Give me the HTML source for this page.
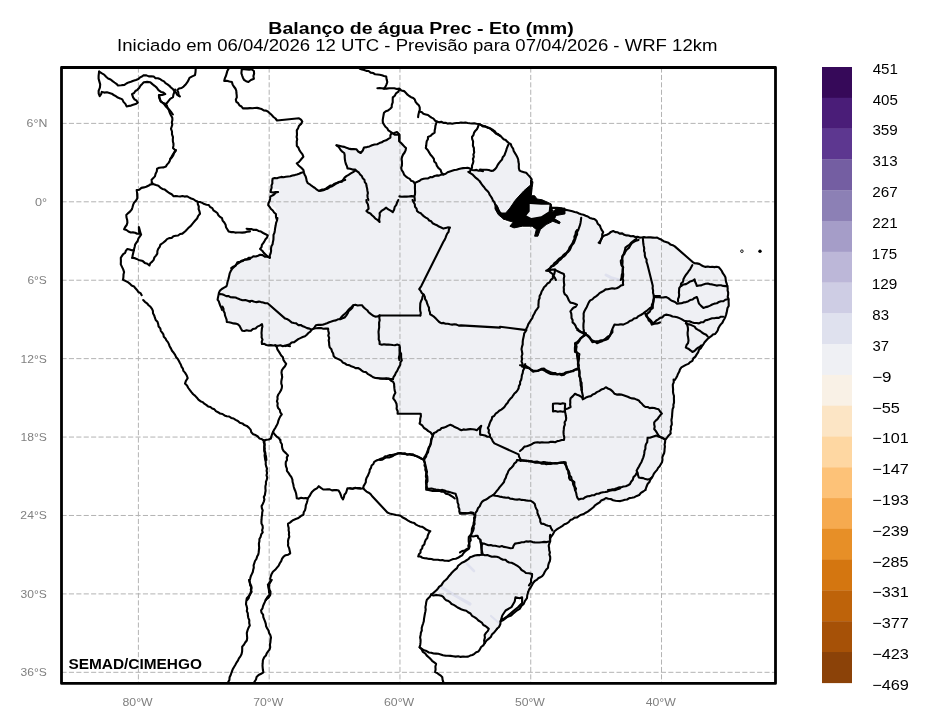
<!DOCTYPE html><html><head><meta charset="utf-8"><style>html,body{margin:0;padding:0;background:#fff;width:929px;height:727px;overflow:hidden}svg{display:block}svg{will-change:transform}text{font-family:"Liberation Sans",sans-serif}</style></head><body><svg width="929" height="727" viewBox="0 0 929 727">
<rect width="929" height="727" fill="#fff"/>
<text x="268.39" y="34.40" font-family="Liberation Sans" font-weight="bold" font-size="17.4" fill="#000" textLength="305.28" lengthAdjust="spacingAndGlyphs">Balanço de água Prec - Eto (mm)</text>
<text x="117.09" y="50.80" font-family="Liberation Sans" font-size="17.4" fill="#000" textLength="600.44" lengthAdjust="spacingAndGlyphs">Iniciado em 06/04/2026 12 UTC - Previsão para 07/04/2026 - WRF 12km</text>
<defs><clipPath id="ax"><rect x="61.5" y="67.5" width="714.0" height="615.9"/></clipPath></defs>
<g clip-path="url(#ax)">
<path d="M336.5,145.3 L342.0,146.4 L348.6,148.6 L356.3,149.2 L360.7,153.0 L364.0,147.5 L369.5,146.4 L377.2,144.2 L383.8,140.9 L390.4,137.6 L391.5,133.2 L397.0,132.1 L399.2,134.3 L399.2,140.9 L403.6,143.1 L405.8,149.7 L402.5,155.2 L400.3,164.0 L401.4,170.6 L404.7,178.3 L411.3,183.8 L419.0,182.7 L423.6,178.8 L443.4,174.4 L454.4,170.0 L467.6,167.8 L472.0,170.0 L480.0,169.5 L493.2,170.6 L502.0,159.6 L508.6,144.2 L510.8,144.2 L517.4,157.4 L519.6,170.6 L526.2,172.8 L531.7,179.4 L530.6,192.6 L529.5,197.0 L525.0,205.0 L510.0,213.0 L500.0,212.0 L498.0,205.0 L496.0,210.0 L504.0,221.0 L520.0,228.0 L535.0,228.0 L550.0,208.0 L559.2,208.0 L572.4,211.3 L585.6,215.7 L594.4,219.0 L600.0,225.6 L603.2,232.2 L600.0,243.2 L612.0,230.0 L625.2,232.2 L634.0,235.5 L640.0,238.8 L657.2,237.6 L674.8,246.4 L692.4,261.8 L703.4,266.2 L718.8,267.3 L725.4,277.2 L727.6,290.4 L728.7,303.6 L725.4,316.8 L716.6,332.2 L707.8,338.8 L699.0,349.8 L692.4,360.8 L681.4,367.4 L676.0,376.2 L673.0,387.2 L674.0,402.6 L671.8,418.0 L670.7,433.4 L665.2,440.0 L664.1,453.2 L660.8,464.2 L652.0,477.4 L647.6,484.0 L645.4,490.0 L640.0,495.0 L630.0,498.0 L620.0,499.6 L609.6,500.7 L600.8,502.9 L592.0,510.6 L578.8,512.8 L565.6,521.6 L554.6,530.4 L550.2,534.8 L549.1,548.0 L550.2,559.0 L548.0,567.8 L543.6,574.4 L534.8,581.0 L528.2,592.0 L523.7,603.9 L519.6,608.9 L513.0,613.8 L504.8,618.8 L500.6,621.3 L497.0,628.8 L490.8,637.0 L484.6,643.2 L484.6,635.0 L488.8,628.8 L478.4,620.5 L468.1,612.3 L455.7,606.1 L451.6,604.0 L441.3,595.7 L431.0,594.7 L441.3,585.4 L455.7,571.0 L468.1,558.6 L482.6,554.5 L482.0,543.6 L477.6,535.9 L471.0,535.9 L475.0,515.8 L473.2,513.6 L460.0,513.6 L455.6,493.8 L444.6,490.5 L427.0,488.3 L427.0,471.8 L423.7,459.7 L429.2,447.6 L432.5,436.6 L433.6,433.3 L430.6,432.4 L424.0,428.0 L419.6,423.6 L420.7,413.7 L397.6,413.7 L396.5,403.8 L393.2,398.3 L395.4,392.8 L393.2,381.8 L388.8,378.5 L380.0,378.5 L375.4,378.0 L360.0,369.2 L346.8,364.8 L333.6,356.0 L329.2,345.0 L328.1,328.5 L313.8,328.5 L305.0,336.2 L296.2,340.6 L285.2,346.1 L270.8,345.1 L262.0,344.0 L262.0,324.2 L251.0,330.8 L242.2,330.8 L237.8,324.2 L226.8,322.0 L222.4,306.6 L215.8,300.0 L217.6,299.6 L219.8,290.8 L226.4,286.4 L230.8,271.0 L237.4,262.2 L244.7,259.5 L260.0,254.7 L269.7,257.6 L273.5,237.4 L277.4,218.1 L275.5,208.5 L267.8,202.7 L268.7,194.1 L278.4,193.1 L279.3,189.3 L270.7,188.3 L271.6,177.7 L292.8,175.8 L303.4,172.2 L307.8,183.2 L318.8,191.0 L326.6,188.2 L334.3,183.8 L342.0,181.6 L346.4,176.1 L355.2,170.6 L347.5,168.4 L345.3,161.8 L344.2,153.0Z" fill="#eff0f4" stroke="none"/>
<path d="M441,587 L456,596 L470,604" stroke="#dfe1ee" stroke-width="3.2" stroke-linecap="round" fill="none"/>
<path d="M467,564 L474,571" stroke="#dfe1ee" stroke-width="2.5" stroke-linecap="round" fill="none"/>
<path d="M491,616 L499,623" stroke="#dfe1ee" stroke-width="2.2" stroke-linecap="round" fill="none"/>
<path d="M606,275 L612,278 L619,280" stroke="#dfe1ee" stroke-width="3.0" stroke-linecap="round" fill="none"/>
<path d="M138.40,67.5 V683.4 M269.18,67.5 V683.4 M399.96,67.5 V683.4 M530.74,67.5 V683.4 M661.52,67.5 V683.4 M61.5,123.38 H775.5 M61.5,201.80 H775.5 M61.5,280.22 H775.5 M61.5,358.64 H775.5 M61.5,437.06 H775.5 M61.5,515.48 H775.5 M61.5,593.90 H775.5 M61.5,672.32 H775.5" stroke="#b3b3b3" stroke-width="1" stroke-dasharray="5.1,2.3" fill="none"/>
<path d="M530.5,180.0 L533.0,181.7 L532.2,187.4 L531.3,195.7 L534.6,195.7 L537.1,199.0 L542.1,199.8 L551.2,203.9 L552.0,208.9 L552.8,211.4 L557.8,208.1 L565.0,208.1 L565.0,213.9 L556.1,215.5 L554.5,218.8 L560.2,222.1 L559.4,223.8 L552.8,221.3 L546.2,224.6 L540.4,229.5 L537.9,236.2 L534.6,236.2 L536.3,229.5 L532.2,226.2 L522.3,226.2 L514.0,227.9 L509.9,226.2 L513.2,222.1 L507.4,220.5 L503.3,218.8 L498.3,214.7 L495.0,208.9 L495.0,203.9 L498.3,208.1 L500.0,213.0 L505.7,213.0 L509.9,208.1 L515.6,199.8 L523.9,190.7 L530.5,185.0Z" fill="#000" stroke="#000" stroke-width="1" stroke-linejoin="round"/>
<path d="M500.6,621.3 L502.3,615.5 L505.6,610.5 L511.4,607.2 L514.7,601.5 L515.5,597.3 L519.6,598.2 L522.1,597.3 L522.1,603.1 L518.0,607.2 L513.0,611.4 L507.2,616.3 L501.5,620.4Z" fill="#fff" stroke="#000" stroke-width="2.1" stroke-linejoin="round"/>
<path d="M529.7,203.9 L541.2,204.8 L549.5,204.8 L548.7,211.4 L541.2,216.3 L531.3,218.0 L526.4,215.5 L529.7,211.4Z" fill="#eff0f4" stroke="none"/>
<path d="M99.1,71.5 L101.5,73.2 L104.1,74.6 L106.1,76.8 L108.1,78.5 L110.6,79.5 L112.6,81.1 L114.5,82.5 L116.4,83.8 L118.0,85.5 L121.2,85.3 L124.4,84.9 L126.4,83.5 L128.6,82.4 L130.9,81.7 L133.4,80.7 L135.9,80.0 L138.4,79.0 L140.0,77.4 L142.0,76.5 L143.8,75.2 L146.4,75.4 L148.8,76.4 L151.4,76.3 L153.7,76.5 L155.5,78.2 L157.9,78.2 L160.0,79.0 L161.9,80.4 L164.0,81.4 L165.5,83.2 L167.5,84.4 L169.4,85.8 L170.9,87.5 L172.7,88.8 L174.0,90.8 L175.9,92.5 L177.2,94.8 L179.3,96.2" fill="none" stroke="#000" stroke-width="2.1" stroke-linejoin="round" stroke-linecap="round"/>
<path d="M99.1,71.5 L98.6,75.8 L98.6,78.8 L99.4,81.6 L100.2,84.4 L99.9,87.7 L98.6,90.8 L98.7,93.6 L99.7,96.2 L101.1,94.2 L101.8,91.9 L104.3,92.6 L106.9,92.3 L109.4,93.0 L111.7,93.7 L113.7,95.0 L115.8,96.2 L117.8,97.6 L120.1,98.4 L122.3,99.4 L123.5,101.9 L125.4,103.9 L126.6,106.4 L128.8,105.9 L131.0,105.6 L133.1,104.8 L135.6,104.1 L137.9,102.7 L136.6,100.7 L134.5,99.3 L133.1,97.3 L132.0,94.1 L134.1,93.0 L135.4,91.0 L137.4,89.8 L139.3,87.8 L140.6,85.5 L142.2,83.9 L143.8,82.2 L147.1,81.9 L150.3,82.2 L152.4,84.1 L154.6,85.8 L156.7,87.6 L158.5,90.1 L161.0,91.9 L163.4,92.6 L165.3,94.1 L162.2,95.0 L158.9,95.1 L159.1,97.4 L160.0,99.5 L161.0,101.6 L162.9,103.0 L164.5,104.6 L165.8,106.5 L167.5,108.1 L169.6,110.0 L171.2,112.2 L172.9,114.5" fill="none" stroke="#000" stroke-width="2.1" stroke-linejoin="round" stroke-linecap="round"/>
<path d="M179.9,96.5 L178.5,94.6 L178.3,92.3 L177.2,90.3 L179.0,88.5 L181.6,88.0 L183.6,86.6 L185.4,84.8 L187.0,82.7 L188.4,80.4 L189.5,77.9 L192.2,76.4 L195.0,75.1 L195.5,72.0 L195.7,68.9" fill="none" stroke="#000" stroke-width="2.1" stroke-linejoin="round" stroke-linecap="round"/>
<path d="M159.3,95.8 L159.7,98.6 L160.6,101.3 L162.7,102.6 L165.0,103.6 L166.8,105.4 L167.6,107.8 L168.8,109.9 L169.6,112.3 L170.8,115.1 L172.3,117.8 L172.4,120.1 L171.8,122.4 L172.3,124.7 L171.0,128.8 L172.0,131.5 L172.0,134.4 L173.0,137.1 L172.8,139.3 L172.9,141.5 L173.5,143.7 L173.4,145.9 L173.0,148.1 L175.8,150.8 L174.0,152.6 L173.3,155.1 L172.0,157.2 L170.3,159.1" fill="none" stroke="#000" stroke-width="2.1" stroke-linejoin="round" stroke-linecap="round"/>
<path d="M175.8,150.0 L174.6,152.3 L173.0,154.4 L171.7,156.6 L170.3,158.8 L169.7,161.0 L168.6,162.9 L167.0,164.6 L165.9,166.5 L163.8,167.4 L161.5,167.5 L159.2,167.8 L157.1,168.7 L156.8,171.4 L155.6,173.8 L154.9,176.4 L153.3,178.1 L151.6,179.7 L151.8,182.0 L152.7,184.1 L150.3,184.5 L148.3,185.8 L146.2,186.8 L143.9,187.4 L141.4,187.9 L139.3,189.7 L136.7,190.1 L137.1,192.9 L137.2,195.6 L137.3,198.4 L135.9,200.8 L134.0,202.8 L133.1,204.9 L132.5,207.2 L131.8,209.4 L130.2,211.4 L128.2,213.1 L126.3,214.9 L126.5,217.5 L127.2,220.0 L127.4,222.6 L126.7,225.0 L125.2,227.0 L124.1,229.2 L126.5,230.0 L128.4,231.5 L130.7,232.5 L132.9,232.4 L135.1,232.7 L137.2,233.8 L139.5,233.6 L139.1,231.4 L138.9,229.2 L138.9,227.0 L139.6,229.6 L140.2,232.2 L141.1,234.7 L139.7,236.6 L138.4,238.5 L137.7,240.8 L136.4,242.7 L135.1,244.6 L134.7,246.8 L134.1,249.0 L133.6,251.2 L133.1,253.4 L132.6,255.6 L132.3,257.8" fill="none" stroke="#000" stroke-width="2.1" stroke-linejoin="round" stroke-linecap="round"/>
<path d="M134.0,250.1 L131.7,250.2 L129.6,249.5 L127.4,249.0 L125.9,250.6 L125.2,252.8 L123.2,254.1 L122.0,255.9 L120.8,257.8 L120.9,261.1 L120.8,264.4 L122.0,266.9 L123.2,269.4 L124.1,272.1 L123.5,274.6 L123.4,277.2 L123.0,279.8 L125.3,280.9 L127.7,282.0 L129.7,283.6 L131.6,285.5 L134.0,286.4 L135.4,288.3 L137.0,290.0 L138.3,292.0 L140.5,293.1 L141.7,295.2" fill="none" stroke="#000" stroke-width="2.1" stroke-linejoin="round" stroke-linecap="round"/>
<path d="M143.2,300.0 L144.9,301.8 L147.0,303.3 L148.6,305.2 L150.5,306.8 L152.0,308.8 L152.9,310.9 L153.0,313.3 L154.2,315.4 L154.9,317.7 L155.7,320.0 L157.5,321.8 L158.2,324.1 L158.6,326.5 L160.3,328.4 L160.8,330.8 L162.2,332.6 L163.4,334.4 L163.8,336.7 L165.5,338.4 L166.4,340.4 L167.9,342.1 L168.9,344.1 L169.6,346.2 L170.9,348.4 L172.0,350.8 L173.7,352.7 L175.1,354.9 L176.2,357.2 L177.7,358.9 L178.8,360.8 L179.8,362.8 L180.9,364.7 L181.6,366.9 L182.9,368.7 L183.4,370.9 L185.0,372.6 L186.6,375.2 L187.7,378.1 L186.0,380.7 L185.0,383.6 L187.0,385.5 L188.3,388.0 L189.9,390.2 L191.6,392.4 L193.2,394.3 L195.2,395.9 L196.9,397.7 L198.4,399.7 L200.4,401.2 L202.6,402.1 L204.3,403.7 L206.2,404.9 L208.1,406.4 L210.4,407.0 L212.2,408.5 L214.4,409.3 L215.9,411.1 L218.0,412.2 L220.0,413.5 L222.5,414.0 L224.5,415.4 L226.7,416.2 L229.2,416.5 L231.2,417.9 L233.6,418.5 L235.6,419.9 L237.9,421.0 L239.8,422.8 L242.4,423.4 L244.4,425.1 L246.8,425.9 L248.8,427.6 L250.6,429.6 L251.3,432.3 L253.2,434.2 L255.6,435.1 L257.8,436.5 L259.6,438.6 L262.1,439.3 L264.2,440.8 L264.5,443.0 L264.6,445.2 L264.2,447.4 L264.2,449.6 L265.2,452.1 L265.6,454.7 L266.1,457.3 L266.4,460.0" fill="none" stroke="#000" stroke-width="2.1" stroke-linejoin="round" stroke-linecap="round"/>
<path d="M263.8,440.0 L263.7,442.2 L264.5,444.4 L264.3,446.6 L264.8,448.8 L264.2,451.0 L264.9,453.2 L264.6,455.5 L264.9,457.7 L265.2,459.8 L265.8,462.0 L265.7,464.3 L266.2,466.4 L267.0,468.6 L266.6,470.8 L267.1,473.0 L266.5,475.2 L267.2,477.5 L266.8,479.6 L265.9,481.8 L266.0,484.0 L265.4,486.2 L265.4,488.4 L265.6,490.7 L265.2,492.8 L264.9,495.0 L263.8,497.1 L264.4,499.4 L263.8,501.6 L262.8,503.9 L261.6,506.0 L261.9,508.3 L262.7,510.4 L262.2,512.6 L262.1,514.8 L261.7,517.0 L261.6,519.2 L261.4,521.4 L261.5,523.6 L262.6,525.8 L262.8,528.0 L262.1,530.2 L262.7,532.4 L261.2,534.4 L260.6,536.9 L259.4,539.0 L259.4,541.2 L258.9,543.4 L259.0,545.6 L259.2,547.8 L258.9,550.0 L258.7,552.2 L258.3,554.4 L257.1,556.6 L256.4,559.0 L255.0,561.0 L254.3,563.2 L253.6,565.3 L253.8,567.6 L253.2,569.8 L252.8,572.0 L251.8,574.1 L250.8,576.3 L250.2,578.6 L249.5,580.8 L249.9,583.0 L250.1,585.2 L251.3,587.3 L250.8,589.7 L251.7,591.8 L250.2,593.6 L249.3,595.8 L248.7,598.1 L247.3,600.0" fill="none" stroke="#000" stroke-width="2.1" stroke-linejoin="round" stroke-linecap="round"/>
<path d="M249.0,580.0 L250.0,583.1 L251.3,586.1 L251.5,588.7 L250.9,591.1 L250.5,593.6 L248.9,596.1 L246.8,598.2 L246.3,601.2 L246.0,604.2 L246.7,606.4 L247.2,608.7 L246.8,611.1 L247.8,613.2 L247.9,615.5 L248.3,617.8 L249.3,620.2 L249.2,622.9 L249.8,625.4 L248.5,627.8 L247.5,630.4 L246.8,633.0 L247.0,635.5 L247.2,638.0 L246.8,640.5 L245.2,642.5 L243.9,644.7 L242.2,646.6 L242.2,649.2 L242.1,651.7 L241.5,654.2 L240.4,656.4 L238.9,658.3 L237.9,660.6 L236.5,662.6 L235.4,664.8 L233.9,667.2 L232.6,669.6 L231.6,672.3 L230.8,674.8 L229.6,677.2 L229.4,679.9 L228.2,682.1 L227.1,684.4" fill="none" stroke="#000" stroke-width="2.1" stroke-linejoin="round" stroke-linecap="round"/>
<path d="M497.0,628.8 L495.4,630.8 L493.8,632.8 L491.9,634.6 L490.8,637.0 L488.6,638.9 L486.3,640.8 L484.6,643.2" fill="none" stroke="#000" stroke-width="2.1" stroke-linejoin="round" stroke-linecap="round"/>
<path d="M431.0,594.7 L429.9,596.7 L428.3,598.2 L426.8,599.9 L426.2,602.3 L425.9,604.7 L425.4,607.1 L425.7,609.5 L425.3,611.9 L424.8,614.3 L424.4,616.6 L424.0,618.9 L423.8,621.3 L423.1,623.5 L422.3,625.8 L421.7,628.0 L421.8,630.5 L420.9,632.7 L420.6,635.0 L420.1,637.4 L420.6,640.0 L420.5,642.4 L420.2,644.9 L419.6,647.3 L421.8,648.8 L424.0,650.3 L426.6,651.1 L428.9,652.5 L431.3,652.7 L433.6,653.5 L436.0,653.6 L438.4,653.8 L440.7,654.4 L443.0,655.3 L445.4,655.6 L448.0,655.8 L450.6,655.9 L453.1,656.2 L455.7,656.6 L458.2,656.2 L460.7,656.9 L463.1,656.5 L465.6,656.8 L468.1,656.6 L470.2,655.6 L472.4,655.0 L474.4,653.8 L476.2,652.2 L478.4,651.5 L479.9,649.4 L481.1,647.0 L483.3,645.4 L484.6,643.2" fill="none" stroke="#000" stroke-width="2.1" stroke-linejoin="round" stroke-linecap="round"/>
<path d="M419.6,647.3 L421.6,649.2 L422.8,651.8 L425.2,653.3 L426.8,655.6 L428.7,657.3 L430.5,658.9 L432.1,660.8 L434.2,662.3 L436.1,663.9 L435.4,666.6 L435.6,669.4 L435.1,672.1 L437.2,673.0 L438.9,674.4 L440.8,675.6 L442.3,677.3 L442.6,679.9 L443.4,682.4" fill="none" stroke="#000" stroke-width="2.1" stroke-linejoin="round" stroke-linecap="round"/>
<path d="M241.8,69.2 L241.4,73.2 L242.1,75.5 L242.9,77.7 L244.0,79.8 L246.1,81.2 L248.4,82.0 L250.9,80.0 L253.9,78.7 L253.4,76.1 L254.1,73.6 L253.9,71.0 L251.7,69.2 L249.2,69.7 L246.8,69.4 L244.3,69.1 L241.8,69.2" fill="none" stroke="#000" stroke-width="2.1" stroke-linejoin="round" stroke-linecap="round"/>
<path d="M359.8,68.8 L362.0,69.5 L364.2,70.0 L366.3,70.9 L368.6,71.0 L370.6,72.6 L373.1,73.0 L375.2,74.3 L377.4,74.5 L379.7,74.7 L381.9,75.2 L384.0,76.0 L386.2,76.5 L386.6,79.3 L387.3,82.0 L386.5,84.3 L385.5,86.6 L384.0,88.6 L381.8,88.3 L379.6,88.1 L377.4,88.2" fill="none" stroke="#000" stroke-width="2.1" stroke-linejoin="round" stroke-linecap="round"/>
<path d="M384.0,88.6 L386.6,88.6 L389.1,88.2 L391.7,88.3 L394.3,88.3 L396.8,89.0 L399.4,88.6 L401.3,90.5 L404.1,91.1 L406.0,93.0 L407.5,94.7 L409.2,96.0 L411.1,97.2 L413.2,98.0 L414.8,99.6 L415.6,101.8 L417.0,103.6 L418.8,105.2 L419.7,107.3 L419.8,109.9 L419.0,112.3 L418.4,114.7 L418.1,117.2" fill="none" stroke="#000" stroke-width="2.1" stroke-linejoin="round" stroke-linecap="round"/>
<path d="M419.2,111.7 L421.6,112.0 L423.4,113.8 L425.7,114.4 L428.0,115.0 L429.7,116.3 L431.5,117.6 L433.5,118.6 L434.9,120.5 L436.8,121.6 L439.0,122.2 L441.3,121.7 L443.4,122.9 L445.6,122.7 L447.7,123.6 L450.0,123.3 L452.2,123.8 L454.4,123.3 L456.6,123.0 L458.8,123.0 L461.0,122.5 L463.2,122.7 L465.4,122.5 L467.6,123.0 L469.8,123.3 L472.0,123.5 L474.2,123.2 L476.4,123.8 L478.8,124.0 L480.9,124.9 L482.9,126.4 L485.3,126.4 L487.3,127.7 L489.6,128.2 L491.6,129.8 L493.7,131.4 L495.6,133.2 L498.1,134.1 L500.0,135.9" fill="none" stroke="#000" stroke-width="2.1" stroke-linejoin="round" stroke-linecap="round"/>
<path d="M480.0,124.4 L482.1,125.5 L484.4,126.2 L486.7,126.9 L488.8,127.8 L491.0,128.8 L493.0,130.0 L494.9,131.4 L496.2,133.6 L498.2,134.8 L500.4,135.8 L502.0,137.6 L503.6,139.2 L505.7,140.0 L507.2,141.7 L509.0,143.0 L510.8,144.2 L511.6,146.5 L513.1,148.6 L513.7,151.0 L515.0,153.1 L516.3,155.2 L517.4,157.4 L518.2,159.5 L518.4,161.8 L518.9,163.9 L518.8,166.2 L518.9,168.5 L519.6,170.6 L521.7,171.6 L524.0,172.2 L526.2,172.8 L528.1,174.9 L530.1,177.0 L531.7,179.4 L531.2,181.6 L531.1,183.8 L531.0,186.0 L530.9,188.2 L530.5,190.4 L530.6,192.6 L530.0,194.8 L529.5,197.0" fill="none" stroke="#000" stroke-width="2.1" stroke-linejoin="round" stroke-linecap="round"/>
<path d="M550.4,208.0 L552.6,207.7 L554.8,207.9 L557.0,207.8 L559.2,208.0 L561.5,208.3 L563.5,209.5 L565.7,209.9 L568.0,210.3 L570.2,210.7 L572.4,211.3 L574.6,212.0 L576.9,212.4 L579.0,213.5 L581.2,214.3 L583.5,214.8 L585.6,215.7 L587.8,216.5 L589.8,217.9 L592.0,218.6 L594.4,219.0 L596.6,220.9 L597.7,223.7 L599.9,225.6 L600.7,227.9 L601.8,230.2 L603.2,232.2 L602.2,234.3 L602.2,236.7 L601.6,238.9 L600.4,241.0 L599.9,243.2" fill="none" stroke="#000" stroke-width="2.1" stroke-linejoin="round" stroke-linecap="round"/>
<path d="M598.7,242.7 L600.4,241.1 L601.2,238.8 L602.6,236.9 L604.4,235.4 L606.8,234.7 L609.0,233.6 L610.9,231.9 L613.2,231.0 L615.3,232.1 L617.7,232.3 L619.7,233.6 L622.2,233.4 L624.2,234.8 L626.4,235.4 L628.6,235.5 L630.8,236.3 L633.1,236.0 L635.2,237.0 L637.5,236.8 L639.6,237.6 L641.8,237.5 L644.0,237.1 L646.2,237.5 L648.4,237.2 L650.6,237.4 L652.8,237.6 L655.0,237.8 L657.2,237.6 L659.3,238.8 L661.6,239.8 L663.6,241.2 L666.0,241.9 L668.4,242.7 L670.3,244.4 L672.7,245.2 L674.8,246.4 L692.4,261.8 L694.4,263.1 L696.8,263.4 L699.2,263.9 L701.3,265.2 L703.4,266.2 L705.6,266.9 L707.8,266.5 L710.0,267.0 L712.2,266.7 L714.4,267.1 L716.6,266.7 L718.8,267.3 L720.4,269.1 L721.8,271.0 L722.8,273.2 L724.2,275.1 L725.4,277.2 L725.7,279.4 L726.0,281.6 L726.8,283.8 L727.1,286.0 L727.7,288.1 L727.6,290.4 L728.2,292.6 L728.1,294.8 L727.7,297.0 L728.7,299.2 L728.6,301.4 L728.7,303.6 L728.7,305.9 L727.5,308.0 L727.1,310.2 L726.7,312.4 L726.1,314.6 L725.4,316.8 L724.5,318.8 L723.3,320.7 L722.4,322.7 L720.8,324.4 L719.5,326.2 L718.4,328.1 L717.8,330.3 L716.6,332.2 L715.2,333.9 L712.9,334.6 L711.3,336.2 L709.5,337.4 L707.8,338.8 L706.2,340.5 L704.6,342.3 L703.4,344.3 L702.0,346.2 L700.8,348.2 L699.0,349.8 L698.1,352.3 L696.7,354.4 L695.4,356.6 L693.3,358.4 L692.4,360.8 L690.2,362.1 L688.3,363.9 L685.9,364.9 L683.6,366.2 L681.4,367.4 L680.0,369.3 L679.3,371.6 L678.1,373.7 L677.2,375.9 L676.1,378.0 L674.8,380.0" fill="none" stroke="#000" stroke-width="2.1" stroke-linejoin="round" stroke-linecap="round"/>
<path d="M673.6,379.5 L673.8,382.1 L672.8,384.6 L672.9,387.2 L673.1,389.4 L673.0,391.6 L673.3,393.8 L674.0,396.0 L673.9,398.2 L674.0,400.4 L674.0,402.6 L673.4,404.8 L673.5,407.0 L672.6,409.1 L672.4,411.4 L672.2,413.6 L672.1,415.8 L671.8,418.0 L671.4,420.2 L671.7,422.4 L671.8,424.6 L670.8,426.8 L671.1,429.0 L670.4,431.2 L670.7,433.4 L668.7,435.4 L667.0,437.7 L665.2,440.0 L665.1,442.2 L664.6,444.4 L664.9,446.6 L664.6,448.8 L664.5,451.0 L664.1,453.2 L663.1,455.3 L662.3,457.5 L662.5,459.9 L662.0,462.2 L660.8,464.2 L659.7,466.2 L658.1,467.9 L657.1,469.9 L655.5,471.6 L654.1,473.3 L653.1,475.4 L652.0,477.4 L650.4,479.5 L649.4,482.0 L647.6,484.0 L646.4,487.0 L645.4,490.0" fill="none" stroke="#000" stroke-width="2.1" stroke-linejoin="round" stroke-linecap="round"/>
<path d="M550.2,534.8 L549.9,537.0 L550.2,539.2 L550.2,541.4 L549.3,543.6 L548.7,545.8 L549.1,548.0 L549.2,550.2 L549.9,552.4 L549.4,554.6 L550.2,556.8 L550.2,559.0 L549.8,561.2 L548.8,563.3 L548.2,565.5 L548.0,567.8 L546.1,569.7 L544.7,572.0 L543.6,574.4 L542.2,576.2 L540.3,577.3 L538.3,578.3 L536.7,579.9 L534.8,581.0 L533.1,583.0 L531.9,585.3 L530.6,587.5 L529.1,589.5 L528.2,592.0" fill="none" stroke="#000" stroke-width="2.1" stroke-linejoin="round" stroke-linecap="round"/>
<path d="M645.4,490.0 L643.2,491.5 L640.9,492.9 L639.2,495.0 L636.8,495.9 L634.5,497.2 L631.9,497.7 L629.3,498.1 L627.1,499.5 L624.8,499.8 L622.6,500.4 L620.3,501.1 L618.0,501.0 L615.5,500.8 L613.1,500.2 L610.8,499.0 L608.3,498.8 L605.9,498.0 L603.7,499.6 L601.1,500.6 L599.3,502.7 L596.9,504.0 L595.0,505.4 L593.4,507.2 L591.5,508.7 L589.7,510.1 L587.8,511.6 L585.7,512.7 L583.6,514.1 L581.2,514.7 L579.1,515.9 L577.1,517.4 L574.5,517.6 L572.6,519.2 L570.3,520.1 L568.7,522.1 L566.7,523.4 L564.4,524.3 L562.5,525.9 L560.5,527.2 L558.4,528.4 L556.4,529.7 L554.5,531.3 L553.2,533.9 L551.4,536.3 L549.9,538.8" fill="none" stroke="#000" stroke-width="2.1" stroke-linejoin="round" stroke-linecap="round"/>
<path d="M528.2,592.0 L527.3,595.0 L527.0,598.2 L525.0,600.8 L523.7,603.9 L521.3,606.1 L519.6,608.9 L517.2,610.3 L515.1,612.0 L513.0,613.8 L511.2,615.5 L509.0,616.4 L506.7,617.4 L504.8,618.8 L502.8,620.3 L500.6,621.3 L500.3,624.3 L499.0,627.0 L497.0,628.8" fill="none" stroke="#000" stroke-width="2.1" stroke-linejoin="round" stroke-linecap="round"/>
<path d="M175.1,89.6 L174.3,92.1 L173.4,94.6 L173.0,97.2 L170.2,98.8 L168.2,101.3 L166.1,104.0" fill="none" stroke="#000" stroke-width="2.1" stroke-linejoin="round" stroke-linecap="round"/>
<path d="M151.6,183.0 L153.7,184.3 L156.0,185.1 L158.4,185.8 L160.3,187.6 L162.4,188.9 L164.8,189.6 L167.0,191.3 L169.2,193.0 L171.7,194.2 L173.6,196.2 L175.8,196.0 L178.0,196.3 L180.2,196.5 L182.4,196.0 L184.6,196.6 L186.8,196.2 L189.0,197.4 L191.2,198.5 L193.5,199.2 L195.5,200.8 L197.8,201.7 L200.1,202.0 L202.2,202.9 L204.3,204.1 L206.5,204.7 L208.8,205.0 L210.1,207.0 L212.3,208.1 L213.4,210.3 L215.4,211.6 L217.3,213.0 L218.4,215.2 L220.0,216.9 L222.0,218.2 L222.6,220.6 L224.3,222.5 L225.6,224.7 L226.0,227.2 L227.3,229.3 L228.6,231.4 L230.8,232.1 L233.0,232.1 L235.1,232.6 L237.4,232.5 L239.6,232.5 L242.2,232.6 L244.8,232.4 L247.4,231.6 L250.0,231.4" fill="none" stroke="#000" stroke-width="2.1" stroke-linejoin="round" stroke-linecap="round"/>
<path d="M197.8,201.7 L197.8,204.2 L198.8,206.5 L198.6,209.1 L199.5,211.4 L200.0,213.8 L198.2,215.9 L197.1,218.5 L195.2,220.5 L193.4,222.6 L192.0,224.3 L190.6,226.1 L188.8,227.5 L187.3,229.1 L185.8,230.8 L184.2,232.2 L182.4,233.6 L180.1,234.0 L178.1,235.5 L175.7,235.8 L173.4,236.2 L171.6,238.0 L169.1,238.1 L167.0,239.1 L165.1,241.2 L162.8,243.0 L160.4,244.6 L159.7,246.9 L158.2,248.8 L157.4,251.0 L157.3,253.6 L156.0,255.6 L154.4,257.4 L153.7,259.8 L152.2,261.6 L150.3,263.2 L149.4,265.5 L147.4,263.7 L144.8,262.9 L142.8,261.1 L140.7,260.4 L138.6,259.9 L136.6,258.9 L134.5,258.1 L132.3,257.8" fill="none" stroke="#000" stroke-width="2.1" stroke-linejoin="round" stroke-linecap="round"/>
<path d="M250.0,258.9 L247.5,259.5 L244.8,259.8 L242.3,260.5 L240.0,261.9 L237.4,262.2 L236.5,264.3 L235.0,265.9 L233.4,267.5 L231.9,269.1 L230.8,271.0 L229.8,273.1 L229.3,275.3 L228.8,277.6 L228.2,279.8 L227.5,282.0 L227.1,284.2 L226.4,286.4 L224.1,287.7 L221.8,289.0 L219.8,290.8 L218.9,292.9 L218.5,295.1 L218.0,297.4 L217.6,299.6 L218.9,301.5 L219.5,303.7 L220.3,305.8 L221.3,307.8 L222.0,310.0" fill="none" stroke="#000" stroke-width="2.1" stroke-linejoin="round" stroke-linecap="round"/>
<path d="M219.8,294.1 L222.1,294.3 L224.2,295.1 L226.3,296.1 L228.7,296.1 L230.7,297.3 L233.0,297.4 L235.6,297.5 L237.9,298.6 L240.2,299.5 L242.6,300.2 L245.3,300.0 L247.7,300.8 L250.0,301.8" fill="none" stroke="#000" stroke-width="2.1" stroke-linejoin="round" stroke-linecap="round"/>
<path d="M222.4,306.6 L223.5,308.7 L223.6,311.0 L224.7,313.1 L225.0,315.4 L225.8,317.5 L226.6,319.7 L226.8,322.0 L229.0,322.3 L231.2,322.8 L233.4,323.4 L235.6,323.6 L237.8,324.2 L239.7,326.1 L240.9,328.5 L242.2,330.8 L244.4,331.0 L246.6,330.3 L248.8,330.8 L251.0,330.8 L252.9,329.0 L255.6,328.5 L257.4,326.6 L259.8,325.6 L262.0,324.2 L262.4,326.4 L261.9,328.6 L261.7,330.8 L261.5,333.0 L261.7,335.2 L261.6,337.4 L262.5,339.6 L261.7,341.8 L262.0,344.0 L264.3,343.8 L266.3,345.0 L268.5,345.4 L270.8,345.1 L273.2,345.5 L275.6,345.5 L278.0,345.8 L280.4,345.2 L282.8,346.2 L285.2,345.5 L287.6,345.8 L290.0,346.2" fill="none" stroke="#000" stroke-width="2.1" stroke-linejoin="round" stroke-linecap="round"/>
<path d="M264.2,440.8 L266.3,439.8 L268.7,439.5 L270.8,438.6 L271.4,436.4 L272.1,434.2 L273.0,432.0 L274.1,429.8 L275.4,427.7 L276.6,425.6 L277.7,423.4 L278.3,420.9 L279.2,418.6 L280.3,416.4 L281.8,414.4 L280.3,412.4 L279.8,409.9 L278.1,408.0 L277.4,405.6 L277.7,403.4 L276.9,401.2 L277.6,399.0 L277.4,396.8 L278.3,394.5 L279.7,392.5 L281.0,390.3 L281.8,388.0 L282.0,385.8 L281.3,383.6 L281.3,381.4 L281.7,379.2 L282.2,377.0 L281.8,374.8 L281.5,372.6 L281.8,370.4 L283.2,368.2 L285.0,366.2 L286.2,363.8 L284.7,361.9 L283.4,359.9 L282.9,357.3 L281.2,355.5 L280.0,353.4 L278.7,351.4 L277.4,349.4 L276.8,347.0 L275.2,345.1" fill="none" stroke="#000" stroke-width="2.1" stroke-linejoin="round" stroke-linecap="round"/>
<path d="M280.3,440.0 L280.6,442.3 L281.9,444.3 L282.0,446.7 L282.5,448.9 L283.6,451.0 L285.9,453.1 L288.0,455.4 L286.8,457.4 L287.0,459.9 L285.8,462.0 L285.7,464.2 L286.0,466.4 L286.9,468.6 L286.9,470.8 L288.5,472.9 L289.9,475.1 L291.4,477.2 L292.4,479.6 L292.6,482.0 L293.3,484.3 L293.7,486.7 L294.4,489.0 L295.4,491.2 L296.1,493.5 L296.5,495.9 L296.8,498.3 L299.0,498.6 L301.2,497.8 L303.4,498.3 L305.6,498.1 L307.8,498.3 L307.4,500.7 L306.7,503.1 L305.8,505.3 L305.6,507.8 L305.0,510.2 L303.7,512.3 L303.4,514.8 L301.3,515.7 L299.6,517.1 L297.8,518.3 L295.7,519.1 L293.5,519.9 L291.7,521.1 L290.0,522.6 L288.0,523.6 L288.1,525.8 L288.7,528.0 L288.6,530.2 L289.1,532.4 L288.9,534.6 L289.3,536.8 L288.4,539.0 L288.0,541.2 L288.2,543.4 L288.0,545.6 L289.1,548.1 L289.7,550.7 L290.2,553.3 L288.2,554.7 L285.6,555.2 L283.6,556.6 L282.1,558.7 L281.2,561.1 L279.8,563.3 L278.7,565.6 L277.0,567.6 L275.2,569.8 L272.9,571.7 L271.5,574.2 L270.8,576.3 L270.2,578.5 L270.6,580.9 L269.3,582.9 L269.3,585.2 L269.1,587.5 L269.5,589.6 L270.5,591.7 L270.4,594.0 L268.6,595.8 L267.0,597.7 L266.0,600.0" fill="none" stroke="#000" stroke-width="2.1" stroke-linejoin="round" stroke-linecap="round"/>
<path d="M307.8,498.3 L309.5,496.2 L310.7,493.9 L312.2,491.7 L314.3,489.7 L316.9,488.4 L318.8,486.2 L320.9,487.9 L323.2,489.5 L325.4,489.5 L327.6,489.4 L329.8,489.4 L332.0,490.4 L334.2,490.1 L336.4,490.0 L338.6,490.6 L339.9,492.7 L340.8,495.0 L341.6,497.4 L343.0,499.4 L343.9,497.2 L344.4,494.8 L346.0,492.9 L346.7,490.7 L347.4,488.4 L349.9,488.4 L352.5,488.7 L355.0,488.1 L357.5,488.0 L360.0,488.0" fill="none" stroke="#000" stroke-width="2.1" stroke-linejoin="round" stroke-linecap="round"/>
<path d="M271.7,580.0 L270.2,582.6 L267.9,584.5 L268.3,587.2 L268.9,589.8 L269.1,592.6 L270.2,595.1 L268.3,597.8 L265.7,599.7 L264.9,601.9 L263.9,604.0 L263.0,606.1 L262.5,608.4 L261.1,610.3 L261.5,612.7 L263.1,614.7 L263.3,617.2 L264.2,619.4 L265.1,621.6 L265.8,623.9 L266.1,626.3 L267.2,628.4 L268.5,630.5 L269.1,633.0 L270.3,635.1 L271.0,637.5 L270.6,639.9 L270.4,642.3 L269.9,644.7 L270.2,647.2 L269.5,649.6 L268.1,651.4 L266.7,653.3 L265.9,655.6 L264.2,657.2 L262.9,660.1 L262.7,663.2 L262.5,665.5 L262.7,667.8 L262.9,670.0 L263.4,672.3 L261.1,673.8 L258.6,675.0 L256.6,676.9 L256.0,679.5 L254.4,681.8 L253.6,684.4" fill="none" stroke="#000" stroke-width="2.1" stroke-linejoin="round" stroke-linecap="round"/>
<path d="M350.0,488.3 L352.6,488.8 L355.3,487.8 L357.9,488.5 L360.6,488.8 L363.2,488.3 L363.6,486.1 L364.7,484.2 L365.8,482.2 L365.9,479.9 L366.6,477.8 L367.8,475.9 L368.6,473.9 L369.5,471.8 L369.8,469.6 L371.0,467.8 L371.6,465.5 L373.4,464.0 L374.2,461.9 L376.3,460.6 L378.6,459.8 L380.9,458.8 L383.2,458.0 L385.2,456.4 L387.4,456.0 L389.5,455.1 L391.8,455.0 L394.0,454.6 L396.3,454.3 L398.3,453.2 L400.6,453.1 L402.8,453.5 L405.1,453.3 L407.1,454.7 L409.5,454.0 L411.6,455.0 L413.8,455.3 L416.4,456.1 L418.9,457.3 L421.3,458.5 L423.7,459.7 L424.6,462.0 L425.3,464.5 L425.9,466.9 L426.3,469.4 L427.0,471.8 L426.5,474.2 L427.3,476.5 L427.4,478.9 L427.5,481.2 L426.5,483.6 L426.7,485.9 L427.0,488.3 L429.2,488.9 L431.4,488.5 L433.6,489.1 L435.8,489.6 L438.0,489.7 L440.2,490.2 L442.4,489.9 L444.6,490.5 L446.7,491.6 L449.0,491.9 L451.2,492.6 L453.4,493.2 L455.6,493.8 L456.2,496.0 L457.1,498.1 L457.4,500.3 L457.6,502.6 L458.5,504.7 L458.4,507.0 L459.4,509.1 L459.3,511.4 L460.0,513.6 L462.6,513.5 L465.3,513.8 L467.9,513.3 L470.6,513.2 L473.2,513.6 L475.0,515.8" fill="none" stroke="#000" stroke-width="2.1" stroke-linejoin="round" stroke-linecap="round"/>
<path d="M363.2,488.3 L364.8,490.0 L366.5,491.6 L368.7,492.7 L370.6,494.1 L372.0,496.0 L387.4,512.5 L389.5,513.4 L391.7,513.9 L393.9,514.4 L396.1,515.0 L398.4,515.2 L400.6,515.8 L402.3,517.3 L404.3,518.3 L406.2,519.3 L408.1,520.6 L410.0,521.7 L412.1,522.5 L414.3,523.1 L416.0,524.6 L418.0,525.6 L420.1,526.5 L422.4,526.9 L424.3,528.2 L426.1,529.6 L428.2,530.4 L430.3,531.2 L428.8,533.2 L427.8,535.5 L427.3,538.0 L425.7,539.9 L424.8,542.2 L424.3,544.5 L422.5,546.1 L422.2,548.4 L420.6,550.2 L420.5,552.6 L418.9,554.3 L418.2,556.5 L420.5,556.5 L422.5,557.8 L424.7,558.3 L427.0,558.4 L429.2,558.9 L431.5,559.0 L433.6,559.8 L435.8,559.8 L438.0,559.7 L440.2,560.2 L442.4,560.0 L444.6,560.7 L446.8,560.7 L449.0,560.9 L451.1,559.9 L453.3,559.0 L455.8,558.7 L458.0,557.8 L460.0,556.5 L462.1,555.4 L463.4,553.3 L465.0,551.5 L466.8,550.1 L468.8,548.8 L469.6,546.7 L469.4,544.4 L469.5,542.1 L470.8,540.1 L470.3,537.7 L471.0,535.6 L471.5,533.4 L471.8,531.2 L471.9,528.9 L472.6,526.8 L473.5,524.7 L473.7,522.4 L474.5,520.3 L474.0,517.9 L475.0,515.8" fill="none" stroke="#000" stroke-width="2.1" stroke-linejoin="round" stroke-linecap="round"/>
<path d="M423.7,459.7 L424.2,457.5 L425.5,455.6 L426.6,453.7 L427.3,451.6 L428.1,449.5 L429.2,447.6 L430.2,445.5 L430.9,443.3 L431.3,441.0 L431.5,438.7 L432.5,436.6 L433.6,433.3" fill="none" stroke="#000" stroke-width="2.1" stroke-linejoin="round" stroke-linecap="round"/>
<path d="M480.5,540.0 L480.6,542.5 L481.1,544.9 L481.3,547.3 L481.6,549.7 L482.2,552.1 L482.6,554.5 L480.0,555.1 L477.4,555.1 L474.8,555.5 L472.3,556.5 L470.0,557.3 L468.3,559.2 L466.2,560.5 L464.2,561.8 L461.9,562.7 L460.0,564.3 L458.1,565.8 L457.0,568.1 L455.1,569.6 L453.3,571.2 L451.6,573.0 L450.2,574.8 L448.6,576.5 L447.3,578.4 L445.6,580.0 L443.8,581.5 L442.5,583.4 L441.3,585.4 L439.2,586.6 L437.9,588.6 L436.4,590.3 L434.7,591.8 L432.9,593.4 L431.0,594.7" fill="none" stroke="#000" stroke-width="2.1" stroke-linejoin="round" stroke-linecap="round"/>
<path d="M482.6,554.5 L484.9,555.2 L487.4,555.1 L489.7,555.9 L491.9,556.7 L494.4,556.6 L496.8,556.8 L499.1,557.5 L501.0,558.8 L503.0,559.8 L505.5,559.8 L507.2,561.5 L509.2,562.5 L511.6,562.8 L513.6,563.7 L515.6,564.8 L517.9,566.2 L519.9,567.8 L521.6,570.0 L523.9,571.3 L525.9,573.0 L529.0,573.3 L532.1,574.1 L531.9,576.9 L531.0,579.5 L531.1,582.3 L529.0,585.4" fill="none" stroke="#000" stroke-width="2.1" stroke-linejoin="round" stroke-linecap="round"/>
<path d="M431.0,594.7 L433.5,595.5 L436.2,595.0 L438.7,595.2 L441.3,595.7 L443.2,596.9 L444.5,598.7 L446.2,600.2 L448.4,601.0 L450.2,602.3 L451.6,604.0 L453.7,604.9 L455.7,606.1 L457.6,607.5 L459.7,608.5 L461.7,609.6 L464.0,610.2 L466.3,610.8 L468.1,612.3 L470.5,613.5 L472.0,615.8 L474.4,617.1 L476.6,618.6 L478.4,620.5 L480.3,621.7 L482.1,622.9 L483.3,625.0 L485.4,626.0 L487.1,627.4 L488.8,628.8 L487.7,631.1 L486.0,632.9 L484.6,635.0 L484.9,637.7 L484.1,640.5 L484.6,643.2" fill="none" stroke="#000" stroke-width="2.1" stroke-linejoin="round" stroke-linecap="round"/>
<path d="M228.6,68.8 L227.3,71.1 L226.6,73.6 L225.9,76.0 L224.8,78.4 L224.2,80.9 L226.8,80.8 L229.4,81.5 L231.9,82.0 L232.6,84.4 L233.8,86.5 L235.4,88.5 L236.3,90.8 L236.4,93.0 L236.7,95.2 L236.8,97.4 L235.8,99.6 L236.3,101.8 L238.2,103.2 L239.4,105.3 L241.5,106.5 L242.9,108.4 L245.3,108.4 L247.6,108.4 L250.0,108.1 L252.3,108.2 L254.7,108.0 L257.0,107.9 L259.4,108.4 L261.7,109.1 L263.7,110.4 L266.1,110.6 L268.2,111.7 L270.0,113.4 L271.8,115.1 L273.5,117.0 L275.5,118.5 L277.0,120.5 L299.0,118.3 L301.0,119.6 L302.3,121.6 L301.1,123.9 L299.1,125.7 L298.1,128.2 L296.8,130.4 L296.9,132.6 L297.0,134.8 L296.6,137.0 L297.2,139.2 L296.7,141.4 L296.8,143.6 L296.8,145.8 L298.5,147.8 L299.4,150.2 L300.9,152.3 L302.5,154.3 L303.4,156.8 L301.8,158.5 L300.3,160.3 L298.8,162.1 L296.8,163.4 L298.3,165.2 L300.1,166.7 L301.8,168.3 L303.4,170.0 L303.9,172.3 L304.5,174.5 L305.7,176.6 L306.3,178.8 L306.7,181.1 L307.8,183.2 L309.8,184.3 L311.5,185.7 L313.3,187.0 L315.2,188.2 L316.9,189.7 L318.8,190.9 L321.1,190.7 L323.3,190.2 L325.4,189.2 L327.6,188.7 L329.7,187.1 L332.2,186.2 L334.3,184.8 L336.4,183.2 L338.5,182.1 L340.8,181.5 L342.9,180.5 L345.2,179.9" fill="none" stroke="#000" stroke-width="2.1" stroke-linejoin="round" stroke-linecap="round"/>
<path d="M303.4,172.2 L301.2,172.8 L299.1,173.8 L296.9,174.6 L294.7,175.1 L292.4,175.5 L290.3,176.3 L288.0,176.5 L285.8,176.8 L283.6,177.2 L281.3,176.9 L279.2,177.4 L277.0,178.3 L274.7,178.0 L272.6,178.8 L272.3,181.0 L272.4,183.3 L271.5,185.4 L271.6,187.7 L271.0,189.8 L270.4,192.0 L273.0,192.5 L275.5,192.0 L278.1,192.0 L275.9,192.6 L274.3,194.3 L272.4,195.5 L270.4,196.4 L270.1,198.7 L269.6,200.9 L268.5,202.9 L268.2,205.2 L269.7,207.0 L271.0,209.0 L272.8,210.5 L274.1,212.5 L275.9,214.0 L276.0,217.1 L277.0,220.0" fill="none" stroke="#000" stroke-width="2.1" stroke-linejoin="round" stroke-linecap="round"/>
<path d="M399.4,89.7 L398.1,91.9 L396.0,93.4 L394.8,95.8 L392.8,97.4 L392.7,99.9 L392.7,102.4 L391.8,104.8 L391.7,107.3 L390.0,109.0 L388.1,110.4 L385.8,111.2 L384.0,112.8 L383.5,115.3 L383.1,117.7 L382.7,120.2 L382.9,122.7 L384.1,124.8 L385.4,126.8 L387.2,128.3 L388.4,130.4 L390.6,131.8 L392.8,133.4 L395.0,134.8 L399.4,134.8 L399.5,138.1 L399.4,141.4 L401.1,143.0 L402.7,144.7 L404.3,146.4 L406.0,148.0 L405.6,150.4 L404.6,152.5 L403.1,154.5 L402.1,156.7 L401.6,159.0 L401.9,161.2 L402.0,163.4 L401.9,165.6 L401.2,167.8 L401.6,170.0 L403.1,172.2 L404.1,174.7 L406.0,176.6 L407.8,177.9 L409.8,178.9 L411.1,180.8 L413.3,181.5 L414.8,183.2" fill="none" stroke="#000" stroke-width="2.1" stroke-linejoin="round" stroke-linecap="round"/>
<path d="M436.8,121.6 L436.1,123.8 L435.4,125.9 L435.2,128.1 L434.7,130.3 L434.6,132.6 L432.4,134.1 L430.5,135.9 L428.0,137.0 L427.9,139.3 L426.7,141.3 L426.4,143.5 L426.2,145.8 L425.8,148.0 L427.7,150.0 L429.1,152.4 L430.5,154.8 L432.4,156.8 L433.9,158.8 L434.2,161.4 L436.1,163.2 L436.8,165.6 L438.3,167.9 L440.5,169.7 L441.4,172.4 L443.4,174.4" fill="none" stroke="#000" stroke-width="2.1" stroke-linejoin="round" stroke-linecap="round"/>
<path d="M414.8,183.2 L416.9,181.9 L419.2,181.1 L421.2,179.5 L423.6,178.8 L425.8,178.5 L428.1,178.4 L430.2,177.1 L432.5,177.2 L434.5,176.0 L436.7,175.4 L439.0,175.6 L441.1,174.6 L443.4,174.4 L445.7,173.7 L447.6,172.2 L449.9,171.4 L452.1,170.7 L454.4,170.0 L456.6,169.7 L458.8,169.0 L460.9,168.5 L463.1,168.1 L465.4,168.0 L467.6,167.8 L470.0,168.5 L472.0,170.0 L474.2,170.3 L476.5,169.9 L478.6,170.7 L480.8,170.7 L483.0,171.1" fill="none" stroke="#000" stroke-width="2.1" stroke-linejoin="round" stroke-linecap="round"/>
<path d="M478.6,124.9 L477.9,127.2 L476.9,129.2 L475.2,130.9 L474.0,132.9 L473.4,135.2 L472.0,137.0 L472.2,139.2 L473.1,141.3 L473.0,143.6 L472.9,145.8 L473.9,148.0 L473.9,150.2 L474.2,152.4 L473.4,154.5 L473.8,156.8 L472.9,159.0 L473.4,161.3 L472.9,163.4 L472.0,165.6 L472.0,167.8 L470.5,169.8 L469.8,172.2" fill="none" stroke="#000" stroke-width="2.1" stroke-linejoin="round" stroke-linecap="round"/>
<path d="M414.8,183.2 L415.0,185.4 L414.9,187.6 L415.0,189.8 L415.1,192.0 L415.0,194.2 L414.4,196.4 L414.7,198.6 L414.8,200.8" fill="none" stroke="#000" stroke-width="2.1" stroke-linejoin="round" stroke-linecap="round"/>
<path d="M399.4,196.4 L401.8,196.8 L404.2,196.5 L406.5,196.6 L408.9,196.5 L411.3,196.1 L413.7,196.4" fill="none" stroke="#000" stroke-width="2.1" stroke-linejoin="round" stroke-linecap="round"/>
<path d="M480.0,169.5 L482.2,169.7 L484.4,169.7 L486.6,169.8 L488.8,170.0 L491.0,170.9 L493.2,170.6 L495.1,169.1 L496.5,167.3 L497.6,165.1 L498.9,163.1 L500.4,161.3 L502.0,159.6 L502.7,157.3 L504.4,155.4 L505.2,153.2 L506.1,150.9 L506.7,148.6 L507.6,146.4 L508.6,144.2" fill="none" stroke="#000" stroke-width="2.1" stroke-linejoin="round" stroke-linecap="round"/>
<path d="M480.0,181.6 L481.3,183.6 L482.6,185.5 L484.2,187.2 L485.5,189.2 L487.2,190.8 L488.8,192.6 L489.6,194.7 L490.9,196.5 L492.1,198.4 L492.9,200.5 L494.4,202.2 L495.1,204.3 L496.7,205.9 L497.6,208.0 L498.5,210.5 L500.0,212.5 L501.8,214.4 L502.7,216.9 L504.2,219.0" fill="none" stroke="#000" stroke-width="2.1" stroke-linejoin="round" stroke-linecap="round"/>
<path d="M581.2,217.9 L580.9,220.4 L580.5,222.9 L579.9,225.4 L579.0,227.8 L578.3,230.0 L577.1,232.0 L577.1,234.5 L576.0,236.6 L575.4,238.8 L574.6,241.0 L573.6,243.4 L571.8,245.3 L570.8,247.7 L569.7,250.1 L568.0,252.0 L565.6,253.3 L563.4,255.1 L561.7,257.3 L559.2,258.6 L557.7,260.2 L556.2,261.9 L554.4,263.2 L553.1,265.0 L551.2,266.3 L550.1,268.4 L548.2,269.6 L550.1,272.1 L552.6,274.0 L553.6,276.1 L554.9,277.9 L555.9,280.0" fill="none" stroke="#000" stroke-width="2.1" stroke-linejoin="round" stroke-linecap="round"/>
<path d="M638.5,239.9 L636.1,240.7 L633.9,241.9 L631.8,243.2 L630.3,245.5 L628.9,247.9 L626.7,249.7 L625.2,252.0 L624.2,254.2 L622.6,256.2 L622.2,258.8 L620.8,260.8 L621.0,263.1 L621.5,265.3 L622.8,267.3 L623.0,269.6 L622.7,272.3 L621.8,274.8 L621.6,277.4 L620.8,280.0" fill="none" stroke="#000" stroke-width="2.1" stroke-linejoin="round" stroke-linecap="round"/>
<path d="M642.9,238.7 L643.1,241.1 L643.3,243.5 L643.7,245.9 L644.2,248.3 L644.0,250.8 L644.8,252.9 L644.8,255.3 L645.3,257.5 L646.6,259.5 L646.5,261.9 L647.3,264.0 L652.8,286.0 L652.6,288.2 L653.1,290.4 L653.0,292.7 L653.6,294.8 L653.9,297.0 L653.7,299.2 L653.6,301.4 L653.1,303.6 L652.8,305.8 L652.8,308.0 L650.8,309.3 L649.8,311.6 L648.0,313.1 L646.2,314.6 L647.5,317.1 L649.3,319.1 L651.3,321.1 L652.8,323.4 L654.7,322.2 L656.3,320.5 L658.2,319.3 L660.1,317.9 L662.4,317.4 L663.9,315.5 L666.0,314.6 L668.2,315.0 L670.4,315.5 L672.5,316.5 L674.8,316.8 L677.2,317.2 L679.4,318.1 L681.5,319.1 L683.6,320.4 L685.8,321.2" fill="none" stroke="#000" stroke-width="2.1" stroke-linejoin="round" stroke-linecap="round"/>
<path d="M692.4,265.1 L691.2,267.2 L690.1,269.3 L688.6,271.2 L687.3,273.2 L685.8,275.0 L684.5,277.1 L683.4,279.3 L683.0,281.8 L681.1,283.6 L680.7,286.2 L679.2,288.2 L679.1,290.4 L678.9,292.6 L679.2,294.8 L678.9,297.0 L678.0,299.2 L678.1,301.4" fill="none" stroke="#000" stroke-width="2.1" stroke-linejoin="round" stroke-linecap="round"/>
<path d="M653.9,297.0 L656.3,297.2 L658.7,297.3 L661.2,297.5 L663.6,297.4 L666.0,297.0 L668.3,298.1 L670.3,299.8 L672.5,301.1 L675.0,302.0 L677.0,303.6 L679.3,303.4 L681.5,303.2 L683.6,302.4 L685.9,302.1 L688.0,301.4 L690.1,300.1 L692.6,299.5 L694.5,297.9 L696.8,297.0 L697.7,299.1 L698.2,301.4 L699.0,303.6 L701.1,305.9 L703.4,308.0 L705.6,307.1 L707.9,306.6 L710.1,305.6 L712.2,304.5 L714.4,303.6 L716.7,303.3 L718.8,302.0 L721.0,301.3 L723.4,301.2 L725.3,299.7 L727.6,299.2" fill="none" stroke="#000" stroke-width="2.1" stroke-linejoin="round" stroke-linecap="round"/>
<path d="M681.4,286.0 L683.4,284.5 L686.0,284.1 L688.1,282.9 L690.1,281.4 L692.6,280.8 L694.6,279.4 L695.1,281.7 L696.1,283.8 L696.8,286.0 L699.0,285.5 L701.3,285.4 L703.4,284.4 L705.6,283.8 L707.9,283.6 L710.0,284.3 L712.2,284.4 L714.4,284.9 L716.6,285.6 L718.8,285.2 L721.0,285.3 L723.2,285.9 L725.4,286.1 L727.6,286.0" fill="none" stroke="#000" stroke-width="2.1" stroke-linejoin="round" stroke-linecap="round"/>
<path d="M686.9,321.2 L689.4,321.2 L691.7,322.3 L694.1,323.0 L696.6,323.0 L699.0,323.4 L701.1,322.3 L703.6,322.1 L705.4,320.3 L707.8,319.9 L710.0,319.0 L712.1,318.3 L714.4,318.3 L716.6,317.8 L718.9,317.9 L720.9,316.7 L723.2,316.8" fill="none" stroke="#000" stroke-width="2.1" stroke-linejoin="round" stroke-linecap="round"/>
<path d="M685.8,323.4 L688.0,324.1 L690.3,324.6 L692.4,325.6 L694.6,326.6 L696.0,328.7 L698.1,329.9 L700.2,331.0 L702.0,332.5 L704.0,333.8 L706.2,334.8 L707.8,336.6" fill="none" stroke="#000" stroke-width="2.1" stroke-linejoin="round" stroke-linecap="round"/>
<path d="M685.8,321.2 L686.5,323.4 L687.4,325.5 L687.9,327.7 L688.0,330.0 L687.6,332.6 L687.7,335.3 L688.2,337.9 L688.5,340.6 L688.0,343.2 L686.5,345.2 L685.8,347.6 L688.3,348.7 L690.4,350.3 L692.4,352.0 L694.4,351.0 L696.0,349.4 L697.6,348.0 L699.6,347.0 L701.2,345.4" fill="none" stroke="#000" stroke-width="2.1" stroke-linejoin="round" stroke-linecap="round"/>
<path d="M577.0,230.0 L575.8,232.1 L575.5,234.4 L574.4,236.5 L574.5,238.9 L573.3,241.0 L572.6,243.2 L571.1,245.3 L569.6,247.4 L568.7,249.8 L567.2,251.9 L566.0,254.2 L564.4,256.1 L562.3,257.5 L560.7,259.4 L558.6,260.9 L557.2,263.0 L555.3,264.3 L553.7,265.8 L551.5,266.6 L549.9,268.2 L548.3,269.7 L546.2,270.7 L548.5,270.9 L550.6,270.1 L552.8,269.5 L555.0,269.6 L554.8,271.9 L554.2,274.1 L552.9,276.1 L552.8,278.4 L550.8,279.9 L549.6,282.3 L547.4,283.5 L545.9,285.6 L544.0,287.2 L543.0,289.4 L541.6,291.5 L540.9,293.9 L539.6,296.0 L539.6,298.2 L538.7,300.4 L538.6,302.6 L538.4,304.8 L538.5,307.0 L537.0,309.1 L535.5,311.1 L534.4,313.5 L533.1,315.7 L532.3,318.1 L530.8,320.2 L529.5,322.3 L528.2,324.4 L527.4,326.8 L526.2,328.9 L525.6,331.4 L524.2,333.4 L523.9,335.6 L523.4,337.8 L522.9,340.0 L522.7,342.2 L522.7,344.4 L522.0,346.6 L521.5,349.1 L522.0,351.6 L522.4,354.0 L521.6,356.5 L522.1,359.0 L521.5,361.4 L522.5,363.9 L522.0,366.4" fill="none" stroke="#000" stroke-width="2.1" stroke-linejoin="round" stroke-linecap="round"/>
<path d="M555.0,269.6 L557.1,271.0 L559.3,272.0 L561.5,273.1 L563.8,274.0 L564.3,276.2 L563.8,278.4 L563.8,280.6 L564.0,282.8 L564.3,285.0 L563.7,287.2 L563.9,289.4 L563.8,291.6 L564.7,294.1 L566.7,295.8 L567.9,298.1 L568.9,300.5 L570.4,302.6 L572.7,303.0 L574.9,303.7 L577.0,304.8 L575.7,306.8 L573.4,307.8 L571.8,309.5 L570.4,311.4 L571.3,313.5 L571.5,315.8 L571.5,318.0 L572.6,320.1 L572.6,322.4 L574.3,323.9 L575.5,325.7 L576.3,327.9 L578.1,329.3 L579.2,331.2 L581.3,332.2 L583.7,332.3 L585.8,333.4" fill="none" stroke="#000" stroke-width="2.1" stroke-linejoin="round" stroke-linecap="round"/>
<path d="M636.4,238.8 L634.5,240.2 L632.6,241.6 L630.8,243.1 L629.3,244.9 L627.3,246.2 L625.4,247.6 L625.0,249.9 L624.3,252.1 L623.6,254.3 L622.3,256.3 L622.1,258.6 L622.6,260.8 L622.5,263.0 L622.3,265.2 L623.2,267.4 L622.6,269.6 L622.6,271.8 L623.2,274.0 L623.1,276.2 L622.7,278.4 L623.2,280.6 L622.9,282.8 L623.2,285.0 L620.8,285.6 L618.8,287.2 L616.6,288.3 L614.4,288.6 L612.2,288.2 L610.0,288.7 L607.8,289.2 L605.6,289.4 L603.7,290.9 L601.6,292.0 L599.5,293.1 L597.9,294.9 L596.0,296.3 L594.0,297.6 L592.4,299.4 L590.2,300.4 L588.8,302.4 L587.8,304.7 L586.8,306.9 L585.6,309.1 L584.4,311.2 L583.6,313.6 L583.7,316.1 L583.5,318.6 L583.9,321.0 L583.5,323.5 L583.4,326.0 L583.5,328.4 L583.9,330.9 L583.6,333.4" fill="none" stroke="#000" stroke-width="2.1" stroke-linejoin="round" stroke-linecap="round"/>
<path d="M583.6,333.4 L585.9,334.3 L588.0,335.6 L589.9,337.5 L591.0,340.0 L592.4,342.2 L594.6,341.8 L596.8,341.2 L599.0,341.1 L601.2,340.3 L603.4,340.0 L605.6,338.5 L607.6,336.8 L610.0,335.6 L610.9,333.4 L611.5,331.1 L612.4,328.9 L613.4,326.8 L614.4,324.6 L616.6,324.8 L618.8,324.6 L621.0,324.3 L623.2,324.6 L625.4,323.6 L627.7,322.6 L629.7,321.0 L632.0,320.2 L634.0,318.5 L636.6,317.9 L638.5,316.1 L640.8,315.0 L643.0,313.6 L645.2,311.9 L647.4,310.3 L649.5,308.5 L651.8,307.0 L651.9,304.7 L652.9,302.6 L653.3,300.4 L654.0,298.3 L654.0,296.0 L657.0,296.0 L660.0,296.0" fill="none" stroke="#000" stroke-width="2.1" stroke-linejoin="round" stroke-linecap="round"/>
<path d="M645.2,313.6 L646.2,316.0 L647.8,318.0 L648.7,320.5 L650.8,322.2 L651.8,324.6 L654.5,323.7 L657.3,323.4 L660.0,322.4" fill="none" stroke="#000" stroke-width="2.1" stroke-linejoin="round" stroke-linecap="round"/>
<path d="M585.8,333.4 L584.2,335.3 L582.4,337.0 L580.5,338.6 L579.4,340.9 L577.9,342.9 L575.9,344.4 L576.6,346.5 L576.2,348.8 L576.1,351.0 L577.1,353.2 L577.0,355.4 L577.3,357.6 L577.7,359.8 L578.0,362.0 L577.9,364.3 L578.2,366.5 L578.8,368.6 L579.2,370.8 L579.5,373.2 L579.3,375.7 L580.1,378.0 L580.5,380.4 L580.6,382.8 L580.7,385.2 L581.4,387.6 L581.4,390.0" fill="none" stroke="#000" stroke-width="2.1" stroke-linejoin="round" stroke-linecap="round"/>
<path d="M522.0,366.4 L524.1,367.4 L526.4,367.7 L528.8,368.1 L530.7,369.5 L532.9,370.5 L535.2,370.8 L537.5,370.7 L539.7,370.2 L541.7,368.7 L544.0,368.6 L546.0,370.2 L548.2,371.2 L550.4,372.3 L552.8,373.0 L555.1,373.0 L557.2,374.3 L559.5,374.3 L561.6,375.2 L564.0,374.7 L565.9,373.1 L568.0,371.9 L570.4,371.5 L572.7,370.7 L574.8,369.6 L577.0,368.6" fill="none" stroke="#000" stroke-width="2.1" stroke-linejoin="round" stroke-linecap="round"/>
<path d="M500.0,326.8 L526.4,330.1" fill="none" stroke="#000" stroke-width="2.1" stroke-linejoin="round" stroke-linecap="round"/>
<path d="M412.6,200.0 L413.6,202.2 L414.8,204.2 L415.0,206.7 L416.6,208.6 L417.0,211.0 L418.7,212.4 L420.8,213.3 L422.3,214.9 L424.0,216.4 L425.8,217.6 L427.7,218.7 L429.2,220.5 L431.2,221.3 L432.6,223.2 L434.6,224.2 L436.9,225.2 L438.9,226.6 L441.2,227.5 L443.4,228.6 L445.6,228.0 L447.7,227.4 L450.0,227.5 L448.9,229.5 L448.6,231.8 L447.2,233.6 L446.3,235.7 L445.5,237.8 L444.6,239.9 L443.4,241.8 L432.4,263.8 L421.4,285.8 L419.2,289.1 L420.7,290.9 L421.8,293.0 L423.6,294.6 L422.5,296.7 L422.1,299.1 L421.0,301.2 L420.3,303.4 L420.2,305.8 L420.1,308.2 L420.2,310.7 L420.8,313.1 L420.3,315.5" fill="none" stroke="#000" stroke-width="2.1" stroke-linejoin="round" stroke-linecap="round"/>
<path d="M423.6,294.6 L424.8,296.7 L425.1,299.1 L426.5,301.1 L427.1,303.4 L428.0,305.6 L429.0,307.7 L429.0,310.0 L429.9,312.1 L430.2,314.4 L432.3,315.5 L434.2,316.9 L435.9,318.6 L437.5,320.3 L439.2,322.0 L441.2,323.2 L443.5,322.9 L445.6,323.7 L447.8,323.8 L450.0,324.3 L452.2,324.6 L454.5,324.2 L456.6,324.6 L458.8,325.6 L461.0,325.4 L500.0,327.6" fill="none" stroke="#000" stroke-width="2.1" stroke-linejoin="round" stroke-linecap="round"/>
<path d="M420.3,315.5 L379.6,315.5" fill="none" stroke="#000" stroke-width="2.1" stroke-linejoin="round" stroke-linecap="round"/>
<path d="M379.6,315.5 L379.3,317.8 L379.7,320.2 L379.1,322.6 L379.1,324.9 L379.2,327.3 L378.8,329.6 L378.5,332.0 L378.7,334.4 L378.8,336.9 L378.7,339.3 L379.6,341.7 L379.6,344.1 L381.8,344.8 L384.0,344.2 L386.2,344.6 L388.4,344.5 L390.6,344.7 L392.8,345.0 L395.0,345.2 L397.2,344.6 L399.4,345.2 L399.9,347.7 L399.6,350.1 L399.6,352.6 L399.5,355.1 L398.9,357.5 L399.4,360.0" fill="none" stroke="#000" stroke-width="2.1" stroke-linejoin="round" stroke-linecap="round"/>
<path d="M340.0,318.8 L341.5,317.0 L343.1,315.3 L344.9,313.8 L346.6,312.2 L348.1,310.3 L349.8,308.6 L351.6,307.0 L353.2,305.2 L355.4,304.8 L357.6,305.5 L359.8,305.3 L362.0,305.2 L363.4,307.1 L365.3,308.7 L367.2,310.2 L368.6,312.2 L370.7,313.9 L372.8,315.5 L375.2,316.6 L377.5,316.5 L379.6,315.5" fill="none" stroke="#000" stroke-width="2.1" stroke-linejoin="round" stroke-linecap="round"/>
<path d="M366.4,200.0 L366.7,202.3 L367.9,204.3 L368.3,206.5 L368.6,208.8 L366.4,211.0 L368.1,212.6 L370.4,213.5 L372.0,215.2 L373.8,216.8 L375.4,218.6 L377.4,219.8 L379.6,222.0 L379.1,219.8 L379.4,217.6 L379.8,215.4 L379.6,213.2 L381.5,210.9 L383.9,209.4 L386.2,207.7 L388.3,209.4 L390.6,210.6 L392.8,212.1 L394.1,209.7 L394.7,207.0 L396.3,204.8 L397.2,202.2 L398.3,200.0" fill="none" stroke="#000" stroke-width="2.1" stroke-linejoin="round" stroke-linecap="round"/>
<path d="M250.0,301.0 L252.2,300.9 L254.4,301.7 L256.6,302.1 L258.9,301.6 L261.0,302.1 L263.2,302.5 L265.3,303.3 L267.6,303.2 L285.2,318.6 L287.6,319.3 L289.6,320.7 L291.6,322.4 L294.0,323.0 L296.4,323.4 L298.2,325.1 L300.8,325.0 L302.8,326.3 L305.0,327.1 L307.1,328.1 L309.5,328.6 L311.6,329.6" fill="none" stroke="#000" stroke-width="2.1" stroke-linejoin="round" stroke-linecap="round"/>
<path d="M285.2,346.1 L287.4,345.0 L289.8,344.3 L291.6,342.5 L294.2,342.1 L296.2,340.6 L298.2,339.1 L300.4,338.1 L302.7,337.0 L305.0,336.2 L306.8,334.7 L308.4,333.0 L310.3,331.6 L311.7,329.7 L313.8,328.5 L316.2,328.3 L318.6,328.0 L321.0,328.1 L323.3,328.7 L325.7,328.6 L328.1,328.5 L328.3,330.9 L328.9,333.2 L328.3,335.6 L329.2,337.9 L328.7,340.3 L329.1,342.6 L329.2,345.0 L329.7,347.4 L331.4,349.2 L332.0,351.5 L333.2,353.6 L333.6,356.0 L335.2,357.7 L337.3,358.6 L339.4,359.6 L341.3,360.7 L342.8,362.6 L345.0,363.4 L346.8,364.8 L349.1,365.1 L351.2,366.2 L353.4,366.9 L355.5,368.1 L358.0,368.0 L360.0,369.2 L361.8,370.6 L363.6,371.8 L366.0,372.1 L367.6,373.8 L369.5,374.9 L371.4,376.0 L373.3,377.3 L375.4,378.0 L377.6,378.1 L379.8,378.4 L382.0,378.5 L384.2,378.5 L386.4,378.3 L388.6,378.9 L390.8,379.0 L393.0,379.1" fill="none" stroke="#000" stroke-width="2.1" stroke-linejoin="round" stroke-linecap="round"/>
<path d="M313.8,328.5 L316.0,325.2 L318.2,324.8 L320.4,324.9 L322.7,324.8 L324.8,324.1 L327.0,323.3 L329.2,322.3 L331.4,321.6 L333.6,320.8 L335.9,320.4 L337.9,319.3 L340.3,319.2 L342.5,318.3 L344.6,317.5 L346.2,315.6 L347.6,313.5 L348.6,311.2 L350.6,309.5 L352.3,307.7 L353.4,305.4" fill="none" stroke="#000" stroke-width="2.1" stroke-linejoin="round" stroke-linecap="round"/>
<path d="M399.6,347.2 L399.8,349.4 L400.0,351.7 L401.1,353.7 L401.1,356.0 L401.2,358.2 L401.8,360.4 L400.4,362.3 L400.3,364.8 L399.2,366.8 L398.1,368.8 L397.2,370.9 L395.8,372.8 L395.0,375.0 L393.6,376.8 L393.0,379.1" fill="none" stroke="#000" stroke-width="2.1" stroke-linejoin="round" stroke-linecap="round"/>
<path d="M380.0,378.5 L382.2,378.7 L384.4,378.7 L386.6,378.9 L388.8,378.5 L390.8,380.5 L393.2,381.8 L394.1,383.9 L394.2,386.2 L394.4,388.4 L394.7,390.6 L395.4,392.8 L393.9,395.4 L393.2,398.3 L395.1,400.9 L396.5,403.8 L396.8,406.3 L396.6,408.8 L397.7,411.2 L397.6,413.7 L420.7,413.7 L420.9,416.2 L420.2,418.7 L420.2,421.2 L419.6,423.6 L422.2,425.4 L424.0,428.0 L426.3,429.4 L428.3,431.1 L430.6,432.4 L432.8,435.7 L431.9,438.0 L431.0,440.4 L430.8,442.9 L430.1,445.3 L428.7,447.5 L428.4,450.0 L428.0,452.4 L426.5,454.4 L426.1,456.7 L424.6,458.7 L424.0,461.0 L424.9,463.1 L424.5,465.5 L425.5,467.6 L425.3,469.9 L426.2,472.0 L426.1,474.2 L425.9,476.4 L426.5,478.6 L426.0,480.8 L426.0,483.0 L426.3,485.2 L426.1,487.4 L426.2,489.6 L428.4,489.9 L430.6,490.5 L432.7,491.0 L435.0,491.0 L437.2,491.0 L439.5,490.8 L441.6,491.7 L443.8,491.8 L445.7,493.6 L448.4,494.2 L450.6,495.5 L452.8,496.9 L454.8,498.5" fill="none" stroke="#000" stroke-width="2.1" stroke-linejoin="round" stroke-linecap="round"/>
<path d="M432.8,434.6 L434.3,432.9 L436.3,432.0 L437.9,430.4 L440.1,429.7 L441.6,428.0 L444.0,427.6 L446.1,426.7 L448.2,425.6 L450.4,424.7 L452.6,425.7 L454.7,427.1 L457.0,427.9 L459.2,429.2 L461.4,430.2 L463.5,429.4 L465.8,429.7 L468.0,429.4 L470.2,429.1 L472.5,429.2 L474.7,429.5 L476.8,430.2 L479.0,428.0 L481.2,425.8 L480.5,427.9 L480.1,430.1 L480.1,432.4 L480.1,434.6 L482.6,435.0 L485.1,435.5 L487.4,436.7 L490.0,436.8 L491.7,438.9 L492.8,441.3 L494.4,443.4 L518.6,454.4 L519.1,456.7 L520.3,458.7 L520.8,461.0" fill="none" stroke="#000" stroke-width="2.1" stroke-linejoin="round" stroke-linecap="round"/>
<path d="M490.0,436.8 L489.9,434.5 L488.6,432.5 L488.9,430.1 L487.8,428.0 L488.9,425.9 L489.6,423.6 L490.5,421.4 L491.7,419.4 L492.2,417.0 L494.3,415.8 L495.6,413.7 L497.6,412.4 L499.2,410.7 L501.3,409.6 L503.2,408.2 L504.8,406.5 L506.0,404.5 L507.7,402.7 L508.8,400.6 L510.3,398.8 L512.0,397.2 L513.2,395.3 L514.4,393.5 L516.1,392.1 L517.5,390.3 L518.6,388.4 L518.9,386.1 L520.1,384.1 L520.1,381.8 L521.2,379.7 L521.6,377.5 L521.9,375.2 L522.7,373.1 L523.0,370.8 L524.0,368.7 L524.2,366.3 L525.2,364.2" fill="none" stroke="#000" stroke-width="2.1" stroke-linejoin="round" stroke-linecap="round"/>
<path d="M380.0,459.9 L382.3,459.6 L384.3,458.3 L386.4,457.2 L389.0,457.5 L391.2,456.7 L393.3,455.7 L395.2,454.3 L397.4,453.5 L399.8,453.3 L402.0,453.8 L404.2,453.9 L406.4,454.2 L408.6,454.5 L410.8,454.4 L413.0,454.4 L415.0,455.8 L417.5,456.5 L419.6,457.6 L421.7,458.9 L424.0,459.9" fill="none" stroke="#000" stroke-width="2.1" stroke-linejoin="round" stroke-linecap="round"/>
<path d="M577.2,330.0 L579.5,330.9 L581.5,332.4 L583.6,333.7 L586.0,334.4 L584.2,335.9 L582.1,337.0 L580.3,338.6 L578.8,340.5 L577.1,342.1 L575.0,343.2 L575.2,345.4 L574.9,347.6 L574.9,349.8 L575.0,352.0 L577.4,352.8 L579.4,354.2 L578.9,356.4 L579.0,358.6 L578.7,360.8 L578.3,363.0 L578.9,365.2 L578.5,367.4 L579.2,369.6 L579.5,371.8 L579.4,374.0 L579.4,376.3 L580.5,378.4 L580.4,380.7 L581.6,382.7 L581.6,385.0 L581.8,387.2 L581.8,389.4 L581.9,391.6 L582.4,393.8 L582.9,396.0 L582.7,398.2" fill="none" stroke="#000" stroke-width="2.1" stroke-linejoin="round" stroke-linecap="round"/>
<path d="M586.0,334.4 L588.2,336.6 L590.4,338.8 L592.4,340.6 L594.9,341.5 L597.0,343.2 L599.2,342.2 L601.5,341.6 L603.5,340.4 L605.9,339.8 L608.0,338.8 L609.4,336.5 L610.6,334.2 L612.4,332.2 L612.4,330.0" fill="none" stroke="#000" stroke-width="2.1" stroke-linejoin="round" stroke-linecap="round"/>
<path d="M520.0,365.2 L522.2,365.5 L524.5,365.5 L526.6,366.3 L529.1,367.8 L531.0,369.9 L533.2,371.8 L535.4,371.1 L537.7,371.0 L539.7,369.7 L542.0,369.6 L544.3,370.5 L546.3,371.9 L548.6,373.0 L550.8,374.0 L553.0,374.1 L555.2,374.1 L557.4,374.5 L559.6,373.7 L561.8,374.0 L564.0,373.4 L566.1,372.3 L568.5,372.4 L570.6,371.5 L572.9,371.3 L574.9,369.8 L577.2,369.6" fill="none" stroke="#000" stroke-width="2.1" stroke-linejoin="round" stroke-linecap="round"/>
<path d="M582.7,399.3 L584.7,398.4 L586.6,397.2 L588.7,396.5 L591.0,396.1 L592.7,394.4 L594.8,393.8 L596.8,392.1 L599.1,391.1 L601.3,389.6 L603.8,388.8 L605.8,387.2 L607.9,388.5 L610.2,389.4 L612.6,391.4 L614.6,393.8 L616.7,394.6 L619.1,394.4 L621.3,394.6 L623.5,395.2 L625.6,396.0 L627.8,396.8 L629.9,397.8 L632.1,398.4 L634.5,398.6 L636.6,399.6 L638.8,400.4 L640.2,402.3 L642.0,403.8 L643.5,405.6 L645.4,407.0 L647.7,407.0 L649.7,408.1 L652.1,407.7 L654.3,408.0 L656.4,408.8 L658.6,409.2 L660.1,411.5 L661.9,413.6 L660.2,415.3 L658.8,417.1 L657.5,419.1 L655.7,420.6 L654.2,422.4 L654.2,424.6 L654.7,426.8 L654.2,429.0 L655.9,431.1 L657.2,433.3 L658.6,435.6 L661.2,437.5 L664.1,438.9" fill="none" stroke="#000" stroke-width="2.1" stroke-linejoin="round" stroke-linecap="round"/>
<path d="M582.7,398.2 L581.0,396.6 L579.1,395.5 L577.0,394.8 L575.0,393.8 L572.9,396.1 L570.6,398.2 L570.2,400.4 L570.3,402.6 L570.1,404.8 L570.6,407.0 L568.0,408.4 L565.1,409.2 L564.8,411.5 L565.5,413.6 L565.8,415.8 L566.2,418.0 L565.9,420.3 L564.6,422.3 L564.9,424.7 L564.0,426.8 L563.8,429.4 L563.5,432.1 L563.7,434.7 L564.3,437.4 L564.0,440.0 L561.7,440.0 L559.5,440.7 L557.3,441.1 L555.2,442.2 L553.0,441.9 L550.8,441.7 L548.6,442.5 L546.4,442.5 L544.2,442.5 L542.0,442.2 L539.8,442.6 L537.6,442.2 L535.3,442.5 L533.1,443.3 L531.1,444.6 L528.9,445.4 L526.7,446.2 L524.4,446.6 L522.4,449.0 L520.0,451.0" fill="none" stroke="#000" stroke-width="2.1" stroke-linejoin="round" stroke-linecap="round"/>
<path d="M553.0,403.7 L555.4,403.5 L557.8,403.5 L560.3,403.9 L562.7,403.2 L565.1,403.7 L565.0,406.3 L564.8,408.8 L565.1,411.4 L562.7,411.7 L560.3,411.3 L557.8,411.7 L555.4,411.0 L553.0,411.4 L553.0,408.8 L552.9,406.3 L553.0,403.7" fill="none" stroke="#000" stroke-width="2.1" stroke-linejoin="round" stroke-linecap="round"/>
<path d="M664.1,438.9 L661.7,437.4 L659.0,436.7 L656.4,435.6 L654.2,436.3 L652.1,437.0 L649.9,437.7 L647.6,437.8 L647.4,440.0 L647.2,442.3 L645.9,444.3 L645.4,446.5 L645.4,448.8 L644.5,450.9 L644.3,453.2 L643.9,455.4 L643.2,457.6 L642.3,459.9 L641.4,462.2 L640.1,464.3 L639.0,466.5 L637.7,468.6 L636.6,470.8 L637.7,472.9 L638.0,475.2 L638.8,477.4 L641.0,477.9 L643.3,478.1 L645.4,479.1 L647.6,479.6 L650.0,478.9 L652.0,477.4" fill="none" stroke="#000" stroke-width="2.1" stroke-linejoin="round" stroke-linecap="round"/>
<path d="M520.0,459.8 L522.2,460.4 L524.4,460.6 L526.6,460.6 L528.8,461.5 L531.0,461.3 L533.2,462.0 L535.3,462.7 L537.6,462.5 L539.9,462.8 L541.9,463.8 L544.3,463.5 L546.4,464.2 L548.6,463.7 L550.8,463.9 L553.0,463.2 L555.2,463.0 L557.5,463.3 L559.7,463.0 L561.9,462.8 L564.0,462.0 L565.0,464.2 L566.3,466.3 L567.2,468.6 L568.4,470.8 L569.4,473.0 L569.7,475.4 L571.3,477.3 L571.6,479.7 L572.8,481.8 L573.2,484.6 L574.5,487.2 L575.0,490.0" fill="none" stroke="#000" stroke-width="2.1" stroke-linejoin="round" stroke-linecap="round"/>
<path d="M608.0,490.0 L610.3,489.9 L612.4,489.3 L614.7,489.0 L616.8,488.3 L618.9,487.4 L621.2,487.4 L623.4,486.5 L625.8,486.2 L628.0,485.3 L630.0,484.0 L631.1,481.7 L632.8,479.7 L633.5,477.1 L635.5,475.3 L636.6,473.0" fill="none" stroke="#000" stroke-width="2.1" stroke-linejoin="round" stroke-linecap="round"/>
<path d="M517.2,460.0 L519.4,460.4 L521.6,460.4 L523.8,460.6 L526.0,461.1 L528.2,460.8 L530.4,461.2 L532.6,461.6 L534.8,461.8 L537.0,461.6 L539.2,462.2 L541.4,462.6 L543.6,462.0 L545.8,462.4 L548.0,462.7 L550.2,462.8 L552.4,463.3 L554.6,463.5 L556.8,463.4 L559.0,462.7 L561.2,462.4 L563.4,462.8 L565.6,462.2 L565.9,464.5 L566.5,466.6 L566.8,468.9 L568.3,470.9 L568.3,473.2 L569.1,475.3 L569.0,477.7 L570.0,479.8 L572.4,480.5 L574.4,482.0 L574.3,484.3 L574.7,486.5 L576.0,488.5 L575.4,490.9 L576.2,493.0 L576.6,495.2 L577.3,497.6 L578.8,499.6 L581.0,498.8 L583.4,498.6 L585.3,497.2 L587.5,496.3 L589.8,496.1 L592.0,495.2 L594.3,495.2 L596.3,493.8 L598.6,493.7 L600.7,492.7 L603.0,492.3 L605.2,492.0 L607.5,491.6 L609.6,490.8 L612.2,490.2 L614.9,490.2 L617.4,489.3 L620.0,488.6" fill="none" stroke="#000" stroke-width="2.1" stroke-linejoin="round" stroke-linecap="round"/>
<path d="M517.2,460.0 L516.1,462.2 L514.2,463.6 L513.2,465.8 L511.6,467.5 L509.8,469.1 L508.4,471.0 L507.6,473.2 L506.5,475.3 L505.9,477.6 L504.6,479.7 L504.0,482.0 L502.5,483.8 L501.0,485.6 L499.5,487.4 L498.1,489.3 L496.6,491.1 L495.2,493.0 L493.6,494.7 L491.6,495.8 L489.7,496.9 L487.8,498.3 L486.0,499.6 L483.8,500.4 L482.0,501.8 L480.7,504.0 L479.7,506.4 L477.9,508.3 L477.0,510.8 L475.4,512.8 L475.3,515.0 L475.2,517.2 L474.4,519.4 L474.3,521.6 L474.6,523.9 L473.5,526.0 L473.8,528.2 L473.2,530.4 L472.0,532.7 L470.6,535.0 L468.8,537.0 L468.7,539.2 L468.7,541.4 L469.1,543.6 L468.3,545.8 L468.8,548.0 L466.6,549.2 L464.6,550.6 L462.1,551.0 L460.0,552.4" fill="none" stroke="#000" stroke-width="2.1" stroke-linejoin="round" stroke-linecap="round"/>
<path d="M493.0,495.2 L495.2,495.7 L497.4,496.0 L499.6,496.6 L501.8,496.9 L504.0,497.4 L506.2,497.7 L508.5,497.6 L510.5,498.8 L512.8,498.9 L515.0,499.5 L517.2,499.6 L519.4,499.3 L521.6,499.9 L523.8,500.0 L526.0,500.4 L528.2,500.7 L530.4,500.7 L532.8,502.1 L534.8,504.0 L535.3,506.3 L536.1,508.5 L537.4,510.5 L537.4,512.9 L538.3,515.0 L539.2,517.2 L540.2,519.3 L540.3,521.7 L541.4,523.8 L543.7,523.9 L545.8,525.0 L547.9,525.8 L550.2,526.0 L551.1,528.3 L552.4,530.4" fill="none" stroke="#000" stroke-width="2.1" stroke-linejoin="round" stroke-linecap="round"/>
<path d="M471.0,535.9 L473.2,536.4 L475.4,535.9 L477.6,535.9 L478.3,538.1 L480.2,539.5 L480.6,541.9 L482.0,543.6 L484.3,543.6 L486.4,544.5 L488.5,545.2 L490.8,545.1 L492.9,545.8 L495.2,545.8 L497.4,546.3 L499.6,546.7 L501.9,546.1 L504.0,546.9 L506.2,547.3 L508.4,547.7 L510.5,548.2 L512.8,548.0 L513.6,545.6 L515.0,543.6 L517.2,543.2 L519.4,542.9 L521.6,542.2 L523.9,542.3 L526.0,541.4 L528.2,541.6 L530.4,541.3 L532.6,542.1 L534.8,542.4 L537.0,542.5 L539.2,542.5 L541.7,542.2 L544.1,541.9 L546.7,542.1 L549.1,541.4" fill="none" stroke="#000" stroke-width="2.1" stroke-linejoin="round" stroke-linecap="round"/>
<path d="M460.0,512.8 L462.6,513.0 L465.3,513.0 L467.9,513.2 L470.6,512.4 L473.2,512.8" fill="none" stroke="#000" stroke-width="2.1" stroke-linejoin="round" stroke-linecap="round"/>
<path d="M482.0,543.6 L481.8,545.8 L481.6,548.0 L481.7,550.2 L481.5,552.4 L482.0,554.6" fill="none" stroke="#000" stroke-width="2.1" stroke-linejoin="round" stroke-linecap="round"/>
<path d="M277.4,218.1 L277.0,220.5 L276.1,222.9 L275.7,225.3 L275.2,227.7 L274.9,230.2 L274.5,232.6 L273.5,234.9 L273.5,237.4 L273.4,239.7 L272.9,241.9 L272.6,244.2 L271.4,246.3 L271.0,248.6 L271.1,250.9 L270.7,253.1 L269.8,255.3 L269.7,257.6" fill="none" stroke="#000" stroke-width="2.1" stroke-linejoin="round" stroke-linecap="round"/>
<path d="M246.6,228.7 L249.0,229.1 L251.4,229.1 L253.7,229.9 L256.2,229.7 L258.5,230.9 L261.0,231.6 L263.2,233.0 L265.6,234.2 L267.8,235.5 L267.0,237.6 L265.5,239.3 L264.4,241.3 L263.2,243.1 L261.9,244.9 L261.5,247.2 L260.1,249.0 L262.2,250.7 L263.8,252.9 L265.8,254.7 L267.6,256.4 L269.7,257.6" fill="none" stroke="#000" stroke-width="2.1" stroke-linejoin="round" stroke-linecap="round"/>
<path d="M269.7,257.6 L267.4,256.7 L264.8,256.6 L262.6,255.1 L260.1,254.7 L258.0,255.7 L255.8,256.5 L253.3,256.3 L251.4,257.8 L249.0,257.7 L247.0,259.1 L244.7,259.5 L242.9,261.0 L240.6,261.6 L238.8,263.0 L236.7,264.0 L235.3,266.1 L233.0,266.8 L231.2,268.2" fill="none" stroke="#000" stroke-width="2.1" stroke-linejoin="round" stroke-linecap="round"/>
<path d="M336.5,145.3 L339.3,145.8 L342.0,146.4 L344.3,146.9 L346.4,147.8 L348.6,148.6 L351.1,149.1 L353.7,149.0 L356.3,149.2 L358.2,151.5 L360.7,153.0 L362.8,150.5 L364.0,147.5 L366.8,147.1 L369.5,146.4 L372.0,145.3 L374.5,144.5 L377.2,144.2 L379.4,143.1 L381.8,142.3 L383.8,140.9 L386.2,140.3 L388.3,138.9 L390.4,137.6 L390.4,135.3 L391.5,133.2 L394.3,133.1 L397.0,132.1 L399.2,134.3 L399.1,137.6 L399.2,140.9" fill="none" stroke="#000" stroke-width="2.1" stroke-linejoin="round" stroke-linecap="round"/>
<path d="M336.5,145.3 L338.7,146.9 L340.2,149.3 L341.9,151.4 L344.2,153.0 L344.7,155.2 L344.7,157.4 L344.9,159.6 L345.3,161.8 L345.9,164.0 L346.9,166.1 L347.5,168.4 L350.1,168.8 L352.6,169.6 L355.2,169.5 L356.8,171.2 L358.8,172.5 L360.1,174.5 L361.8,176.1 L362.7,178.2 L364.4,179.7 L364.8,182.1 L366.2,183.8 L366.5,186.1 L367.1,188.4 L367.4,190.7 L367.9,193.0 L367.4,195.4 L367.7,197.7 L368.4,200.0" fill="none" stroke="#000" stroke-width="2.1" stroke-linejoin="round" stroke-linecap="round"/>
<path d="M320.0,190.4 L322.2,189.6 L324.6,189.4 L326.6,188.2 L328.4,186.8 L330.2,185.5 L332.6,185.2 L334.3,183.8 L336.9,183.3 L339.3,182.0 L342.0,181.6 L343.3,179.6 L344.6,177.6 L346.4,176.1 L348.6,174.8 L350.8,173.4 L353.1,172.1 L355.2,170.6" fill="none" stroke="#000" stroke-width="2.1" stroke-linejoin="round" stroke-linecap="round"/>
<path d="M273.0,432.0 L274.5,434.3 L276.4,436.3 L278.6,437.9 L280.3,440.0" fill="none" stroke="#000" stroke-width="2.1" stroke-linejoin="round" stroke-linecap="round"/>
<path d="M468.3,171.8 L470.3,173.1 L472.3,174.3 L474.0,176.0 L475.9,177.9 L478.1,179.6 L480.0,181.6" fill="none" stroke="#000" stroke-width="2.1" stroke-linejoin="round" stroke-linecap="round"/>
<circle cx="741.9" cy="251.2" r="1.3" fill="#fff" stroke="#000" stroke-width="0.9"/>
<circle cx="760.0" cy="251.2" r="1.7" fill="#000"/>
</g>
<rect x="61.5" y="67.5" width="714.0" height="615.9" fill="none" stroke="#000" stroke-width="2.8" stroke-linejoin="round"/>
<text x="26.61" y="127.38" font-family="Liberation Sans" font-size="11.8" fill="#808080" textLength="20.70" lengthAdjust="spacingAndGlyphs">6°N</text>
<text x="34.97" y="205.80" font-family="Liberation Sans" font-size="11.8" fill="#808080" textLength="12.09" lengthAdjust="spacingAndGlyphs">0°</text>
<text x="27.41" y="284.22" font-family="Liberation Sans" font-size="11.8" fill="#808080" textLength="19.44" lengthAdjust="spacingAndGlyphs">6°S</text>
<text x="20.47" y="362.64" font-family="Liberation Sans" font-size="11.8" fill="#808080" textLength="26.38" lengthAdjust="spacingAndGlyphs">12°S</text>
<text x="20.47" y="441.06" font-family="Liberation Sans" font-size="11.8" fill="#808080" textLength="26.38" lengthAdjust="spacingAndGlyphs">18°S</text>
<text x="20.38" y="519.48" font-family="Liberation Sans" font-size="11.8" fill="#808080" textLength="26.48" lengthAdjust="spacingAndGlyphs">24°S</text>
<text x="20.56" y="597.90" font-family="Liberation Sans" font-size="11.8" fill="#808080" textLength="26.29" lengthAdjust="spacingAndGlyphs">30°S</text>
<text x="20.56" y="676.32" font-family="Liberation Sans" font-size="11.8" fill="#808080" textLength="26.29" lengthAdjust="spacingAndGlyphs">36°S</text>
<text x="122.49" y="705.90" font-family="Liberation Sans" font-size="11.8" fill="#808080" textLength="30.14" lengthAdjust="spacingAndGlyphs">80°W</text>
<text x="253.25" y="705.90" font-family="Liberation Sans" font-size="11.8" fill="#808080" textLength="30.07" lengthAdjust="spacingAndGlyphs">70°W</text>
<text x="383.97" y="705.90" font-family="Liberation Sans" font-size="11.8" fill="#808080" textLength="30.20" lengthAdjust="spacingAndGlyphs">60°W</text>
<text x="514.92" y="705.90" font-family="Liberation Sans" font-size="11.8" fill="#808080" textLength="29.99" lengthAdjust="spacingAndGlyphs">50°W</text>
<text x="645.75" y="705.90" font-family="Liberation Sans" font-size="11.8" fill="#808080" textLength="30.09" lengthAdjust="spacingAndGlyphs">40°W</text>
<text x="68.46" y="668.80" font-family="Liberation Sans" font-weight="bold" font-size="14.5" fill="#000" textLength="133.49" lengthAdjust="spacingAndGlyphs">SEMAD/CIMEHGO</text>
<rect x="822" y="67.00" width="30" height="31.09" fill="#360959"/>
<rect x="822" y="97.79" width="30" height="31.09" fill="#4a1d78"/>
<rect x="822" y="128.58" width="30" height="31.09" fill="#5d3790"/>
<rect x="822" y="159.37" width="30" height="31.09" fill="#745ea2"/>
<rect x="822" y="190.16" width="30" height="31.09" fill="#8c80b5"/>
<rect x="822" y="220.95" width="30" height="31.09" fill="#a59dc8"/>
<rect x="822" y="251.74" width="30" height="31.09" fill="#bcb7d8"/>
<rect x="822" y="282.53" width="30" height="31.09" fill="#cecde4"/>
<rect x="822" y="313.32" width="30" height="31.09" fill="#dfe1ee"/>
<rect x="822" y="344.11" width="30" height="31.09" fill="#eff0f4"/>
<rect x="822" y="374.90" width="30" height="31.09" fill="#f9f1e6"/>
<rect x="822" y="405.69" width="30" height="31.09" fill="#fce5c5"/>
<rect x="822" y="436.48" width="30" height="31.09" fill="#fed7a2"/>
<rect x="822" y="467.27" width="30" height="31.09" fill="#fdc278"/>
<rect x="822" y="498.06" width="30" height="31.09" fill="#f6aa4f"/>
<rect x="822" y="528.85" width="30" height="31.09" fill="#e78f27"/>
<rect x="822" y="559.64" width="30" height="31.09" fill="#d47610"/>
<rect x="822" y="590.43" width="30" height="31.09" fill="#be630a"/>
<rect x="822" y="621.22" width="30" height="31.09" fill="#a65107"/>
<rect x="822" y="652.01" width="30" height="31.09" fill="#8b4208"/>
<text x="872.65" y="73.90" font-family="Liberation Sans" font-size="14.5" fill="#000" textLength="25.27" lengthAdjust="spacingAndGlyphs">451</text>
<text x="872.65" y="104.69" font-family="Liberation Sans" font-size="14.5" fill="#000" textLength="25.23" lengthAdjust="spacingAndGlyphs">405</text>
<text x="872.42" y="135.48" font-family="Liberation Sans" font-size="14.5" fill="#000" textLength="25.41" lengthAdjust="spacingAndGlyphs">359</text>
<text x="872.42" y="166.27" font-family="Liberation Sans" font-size="14.5" fill="#000" textLength="25.22" lengthAdjust="spacingAndGlyphs">313</text>
<text x="872.23" y="197.06" font-family="Liberation Sans" font-size="14.5" fill="#000" textLength="25.48" lengthAdjust="spacingAndGlyphs">267</text>
<text x="872.24" y="227.85" font-family="Liberation Sans" font-size="14.5" fill="#000" textLength="25.35" lengthAdjust="spacingAndGlyphs">221</text>
<text x="871.85" y="258.64" font-family="Liberation Sans" font-size="14.5" fill="#000" textLength="25.20" lengthAdjust="spacingAndGlyphs">175</text>
<text x="871.83" y="289.43" font-family="Liberation Sans" font-size="14.5" fill="#000" textLength="25.54" lengthAdjust="spacingAndGlyphs">129</text>
<text x="872.35" y="320.22" font-family="Liberation Sans" font-size="14.5" fill="#000" textLength="16.70" lengthAdjust="spacingAndGlyphs">83</text>
<text x="872.43" y="351.01" font-family="Liberation Sans" font-size="14.5" fill="#000" textLength="16.51" lengthAdjust="spacingAndGlyphs">37</text>
<text x="872.16" y="381.80" font-family="Liberation Sans" font-size="14.5" fill="#000" textLength="19.40" lengthAdjust="spacingAndGlyphs">−9</text>
<text x="872.19" y="412.59" font-family="Liberation Sans" font-size="14.5" fill="#000" textLength="27.72" lengthAdjust="spacingAndGlyphs">−55</text>
<text x="872.20" y="443.38" font-family="Liberation Sans" font-size="14.5" fill="#000" textLength="36.45" lengthAdjust="spacingAndGlyphs">−101</text>
<text x="872.20" y="474.17" font-family="Liberation Sans" font-size="14.5" fill="#000" textLength="36.58" lengthAdjust="spacingAndGlyphs">−147</text>
<text x="872.20" y="504.96" font-family="Liberation Sans" font-size="14.5" fill="#000" textLength="36.55" lengthAdjust="spacingAndGlyphs">−193</text>
<text x="872.19" y="535.75" font-family="Liberation Sans" font-size="14.5" fill="#000" textLength="36.75" lengthAdjust="spacingAndGlyphs">−239</text>
<text x="872.20" y="566.54" font-family="Liberation Sans" font-size="14.5" fill="#000" textLength="36.41" lengthAdjust="spacingAndGlyphs">−285</text>
<text x="872.20" y="597.33" font-family="Liberation Sans" font-size="14.5" fill="#000" textLength="36.45" lengthAdjust="spacingAndGlyphs">−331</text>
<text x="872.20" y="628.12" font-family="Liberation Sans" font-size="14.5" fill="#000" textLength="36.58" lengthAdjust="spacingAndGlyphs">−377</text>
<text x="872.20" y="658.91" font-family="Liberation Sans" font-size="14.5" fill="#000" textLength="36.55" lengthAdjust="spacingAndGlyphs">−423</text>
<text x="872.19" y="689.70" font-family="Liberation Sans" font-size="14.5" fill="#000" textLength="36.75" lengthAdjust="spacingAndGlyphs">−469</text>
</svg></body></html>
